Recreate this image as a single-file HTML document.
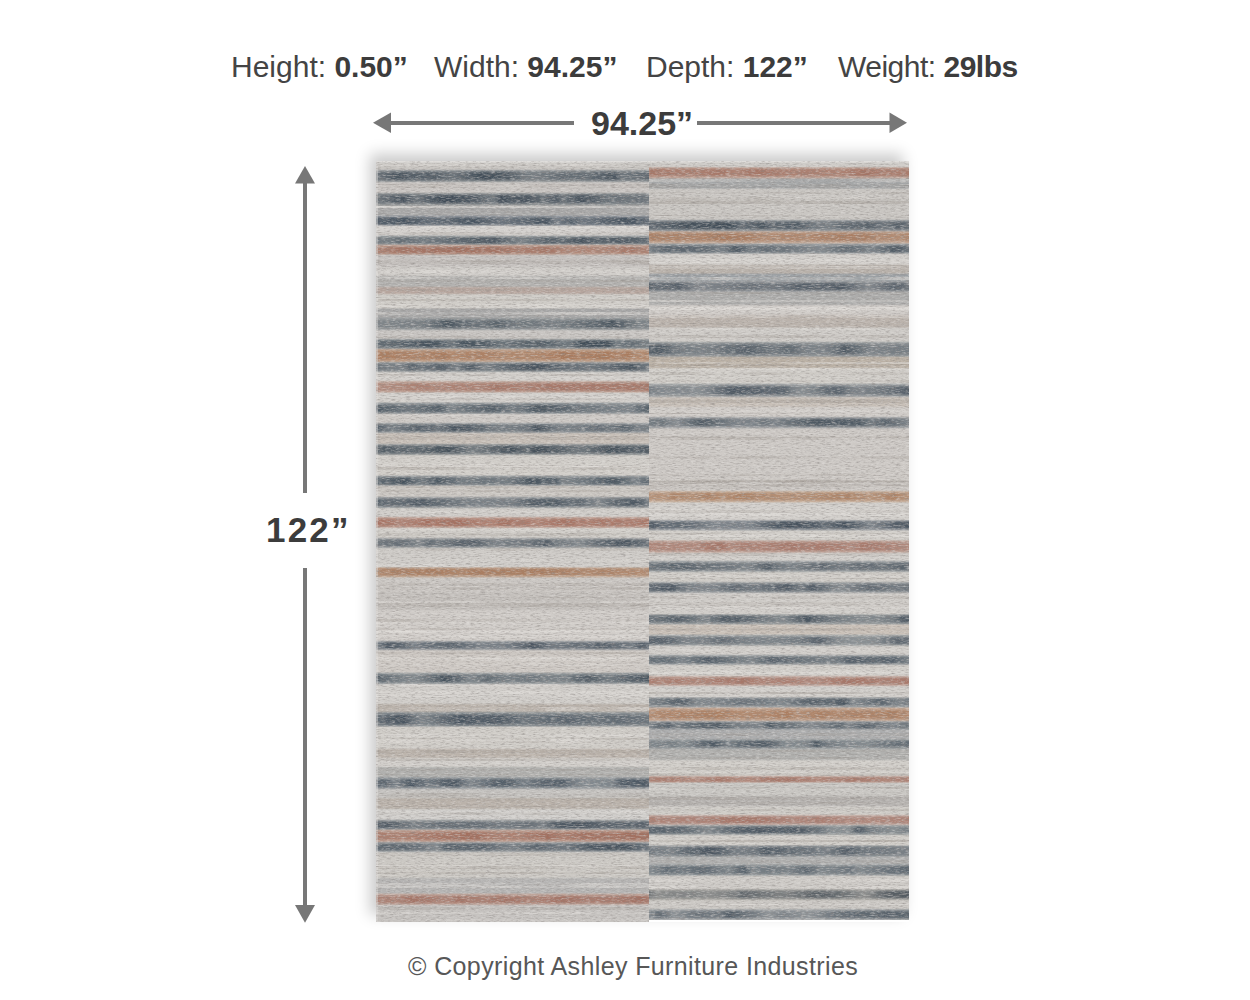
<!DOCTYPE html>
<html><head><meta charset="utf-8"><title>Rug dimensions</title>
<style>
html,body{margin:0;padding:0;background:#fff;}
body{width:1250px;height:1000px;overflow:hidden;position:relative;font-family:"Liberation Sans",sans-serif;}
.t{position:absolute;white-space:nowrap;line-height:1;color:#444;transform-origin:0 0;}
.t b{color:#3c3c3c;}
#rug{position:absolute;left:376px;top:161px;width:533px;height:761px;box-shadow:-6px -7px 14px rgba(0,0,0,0.21);overflow:hidden;}
#pl{position:absolute;left:0;top:0;width:273px;height:761px;background:linear-gradient(to bottom,#c8c5c1 0.0px,#c8c5c1 8.0px,#969a9c 10.0px,#969a9c 20.0px,#c9c5c2 22.0px,#c9c5c2 31.0px,#929698 33.0px,#929698 43.0px,#a7a7a7 45.0px,#a7a7a7 53.5px,#93989e 55.5px,#93989e 63.6px,#d5d2cf 65.6px,#d5d2cf 73.6px,#999ea0 75.6px,#999ea0 82.6px,#c4ab9e 84.6px,#c4ab9e 92.7px,#c5c1be 94.7px,#c5c1be 105.0px,#d0cdc9 107.0px,#d0cdc9 114.0px,#b2b1af 116.0px,#b2b1af 125.0px,#b7a69e 127.0px,#b7a69e 132.0px,#cfccc7 134.0px,#cfccc7 146.5px,#a6a6a6 148.5px,#a6a6a6 155.5px,#9fa2a3 157.5px,#9fa2a3 168.0px,#c8c5c2 170.0px,#c8c5c2 177.0px,#959a9c 179.0px,#959a9c 187.0px,#c6ac98 189.0px,#c6ac98 200.0px,#9a9ea0 202.0px,#9a9ea0 210.0px,#d4d1cd 212.0px,#d4d1cd 219.0px,#c8b2a7 221.0px,#c8b2a7 230.5px,#d2cfcb 232.5px,#d2cfcb 240.6px,#989da0 242.6px,#989da0 251.8px,#cdc9c5 253.8px,#cdc9c5 261.0px,#a0a4a6 263.0px,#a0a4a6 271.0px,#c8c0b8 273.0px,#c8c0b8 282.0px,#999d9e 284.0px,#999d9e 293.0px,#d1cec9 295.0px,#d1cec9 313.5px,#9ca0a2 315.5px,#9ca0a2 323.6px,#cbc7c2 325.6px,#cbc7c2 334.8px,#9fa2a4 336.8px,#9fa2a4 346.0px,#d0cdc9 348.0px,#d0cdc9 355.0px,#c6a99d 357.0px,#c6a99d 366.0px,#cfccc7 368.0px,#cfccc7 376.0px,#a2a5a6 378.0px,#a2a5a6 386.0px,#cecbc7 388.0px,#cecbc7 405.4px,#c6ae9b 407.4px,#c6ae9b 415.5px,#cbc7c3 417.5px,#cbc7c3 430.0px,#c4c0bc 432.0px,#c4c0bc 448.0px,#d0ccc8 450.0px,#d0ccc8 479.0px,#9a9ea2 481.0px,#9a9ea2 488.0px,#cdc8c3 490.0px,#cdc8c3 510.7px,#9ba0a2 512.7px,#9ba0a2 522.0px,#d0cdc9 524.0px,#d0cdc9 542.0px,#b8b0a8 544.0px,#b8b0a8 550.0px,#999ea0 552.0px,#999ea0 564.5px,#cfccc7 566.5px,#cfccc7 587.0px,#bcb4ac 589.0px,#bcb4ac 596.0px,#d2cfcb 598.0px,#d2cfcb 605.0px,#b0b0ae 607.0px,#b0b0ae 615.0px,#a4a8aa 617.0px,#a4a8aa 627.0px,#c5c3c0 629.0px,#c5c3c0 636.0px,#bab2aa 638.0px,#bab2aa 647.0px,#d1cfcc 649.0px,#d1cfcc 657.6px,#a2a5a6 659.6px,#a2a5a6 667.7px,#c3a79a 669.7px,#c3a79a 680.0px,#a0a4a6 682.0px,#a0a4a6 690.0px,#ccc9c4 692.0px,#ccc9c4 716.0px,#b5b4b3 718.0px,#b5b4b3 731.6px,#c4aca2 733.6px,#c4aca2 742.8px,#c6c3c0 744.8px,#c6c3c0 761.0px);}
#pr{position:absolute;left:273px;top:0;width:260px;height:759px;background:linear-gradient(to bottom,#c9c6c2 -1.0px,#c9c6c2 5.3px,#c4aa9e 7.3px,#c4aa9e 16.5px,#a4a6a7 18.5px,#a4a6a7 26.6px,#c9c6c2 28.6px,#c9c6c2 58.0px,#969a9d 60.0px,#969a9d 69.2px,#c6ad9c 71.2px,#c6ad9c 81.5px,#a0a4a6 83.5px,#a0a4a6 91.6px,#d2cfcb 93.6px,#d2cfcb 102.8px,#b8b1aa 104.8px,#b8b1aa 111.7px,#9ba0a4 113.7px,#9ba0a4 119.0px,#a2a4a6 121.0px,#a2a4a6 129.7px,#acacab 131.7px,#acacab 143.0px,#d0ccc8 145.0px,#d0ccc8 153.0px,#bbb3ac 155.0px,#bbb3ac 165.6px,#cecbc7 167.6px,#cecbc7 180.0px,#9a9ea0 182.0px,#9a9ea0 194.7px,#bab0a4 196.7px,#bab0a4 206.0px,#d1cec9 208.0px,#d1cec9 221.6px,#a7aaab 223.6px,#a7aaab 235.0px,#c8c0b8 237.0px,#c8c0b8 245.0px,#d0ccc8 247.0px,#d0ccc8 255.0px,#a8aaac 257.0px,#a8aaac 266.4px,#cdc9c5 268.4px,#cdc9c5 329.0px,#cbb5a2 331.0px,#cbb5a2 340.4px,#d2cfcb 342.4px,#d2cfcb 358.3px,#9a9ea2 360.3px,#9a9ea2 368.4px,#d1cec9 370.4px,#d1cec9 378.4px,#c8b2a8 380.4px,#c8b2a8 390.8px,#d2cfcb 392.8px,#d2cfcb 398.7px,#aaadae 400.7px,#aaadae 410.0px,#cfccc7 412.0px,#cfccc7 420.0px,#a7aaab 422.0px,#a7aaab 431.0px,#d0cdc9 433.0px,#d0cdc9 452.4px,#9fa3a4 454.4px,#9fa3a4 462.5px,#cac1b8 464.5px,#cac1b8 472.6px,#abaeae 474.6px,#abaeae 483.8px,#d0cdc9 485.8px,#d0cdc9 492.8px,#a6aaab 494.8px,#a6aaab 502.8px,#d1cec9 504.8px,#d1cec9 514.0px,#c8b2a8 516.0px,#c8b2a8 524.0px,#d2cfcb 526.0px,#d2cfcb 535.4px,#a0a4a6 537.4px,#a0a4a6 545.5px,#c8ae9c 547.5px,#c8ae9c 559.0px,#a8aaac 561.0px,#a8aaac 568.0px,#acadae 570.0px,#acadae 577.0px,#a5a9aa 579.0px,#a5a9aa 587.0px,#b0b0ae 589.0px,#b0b0ae 598.0px,#d1cec9 600.0px,#d1cec9 614.0px,#c8b0a6 616.0px,#c8b0a6 620.5px,#c9c7c3 622.5px,#c9c7c3 634.0px,#b6b3b0 636.0px,#b6b3b0 644.0px,#cfccc7 646.0px,#cfccc7 653.0px,#c8b2aa 655.0px,#c8b2aa 663.0px,#a6aaaa 665.0px,#a6aaaa 673.0px,#d1cec9 675.0px,#d1cec9 683.4px,#9a9ea0 685.4px,#9a9ea0 694.6px,#b0b1b1 696.6px,#b0b1b1 702.4px,#a5a9aa 704.4px,#a5a9aa 713.6px,#cdcac6 715.6px,#cdcac6 727.0px,#afada8 729.0px,#afada8 738.0px,#cbc8c4 740.0px,#cbc8c4 747.0px,#afb1b2 749.0px,#afb1b2 759.0px);}
.s{position:absolute;left:0;}
.m{-webkit-mask-image:linear-gradient(to bottom,transparent 0,#000 28%,#000 72%,transparent 100%);mask-image:linear-gradient(to bottom,transparent 0,#000 28%,#000 72%,transparent 100%);}
#noise{position:absolute;left:0;top:0;}
#arrows{position:absolute;left:0;top:0;}
</style></head><body>
<div class="t" id="h1" style="left:231px;top:51.5px;font-size:30px;">Height: <b>0.50”</b></div>
<div class="t" id="h2" style="left:434px;top:51.5px;font-size:30px;">Width: <b>94.25”</b></div>
<div class="t" id="h3" style="left:646px;top:51.5px;font-size:30px;">Depth: <b>122”</b></div>
<div class="t" id="h4" style="left:838px;top:51.5px;font-size:30px;letter-spacing:-0.5px;">Weight: <b>29lbs</b></div>
<div class="t" id="wlab" style="left:591px;top:106px;font-size:34px;"><b>94.25”</b></div>
<div class="t" id="hlab" style="left:266px;top:512px;font-size:35px;letter-spacing:2.2px;"><b>122”</b></div>
<div class="t" id="copy" style="left:408px;top:953.5px;font-size:25px;color:#575757;letter-spacing:0.38px;">© Copyright Ashley Furniture Industries</div>
<svg id="arrows" width="1250" height="1000" viewBox="0 0 1250 1000">
<g fill="#777">
<rect x="390" y="121" width="184" height="4"/>
<polygon points="373,122.8 391,112.5 391,133"/>
<rect x="697" y="121" width="193" height="4"/>
<polygon points="907,122.8 889.5,112.5 889.5,133"/>
<rect x="303" y="182" width="4" height="311"/>
<polygon points="305,166 295,183.5 315,183.5"/>
<rect x="303" y="568" width="4" height="338"/>
<polygon points="305,922.8 295,905 315,905"/>
</g>
</svg>
<div id="rug">
<div id="pl">
<div class="s" style="top:2.7px;height:2.6px;width:273px;background:linear-gradient(to right,rgba(228,225,221,0.26) 0px,rgba(228,225,221,0.32) 30px,rgba(228,225,221,0.28) 48px,rgba(228,225,221,0.44) 83px,rgba(228,225,221,0.17) 97px,rgba(228,225,221,0.45) 110px,rgba(228,225,221,0.02) 148px,rgba(228,225,221,0.53) 197px,rgba(228,225,221,0.34) 233px,rgba(228,225,221,0.01) 250px,rgba(228,225,221,0.03) 281px)"></div>
<div class="s m" style="top:9.0px;height:12.0px;width:273px;background:linear-gradient(to right,rgba(64,76,87,0.47) 0px,rgba(64,76,87,0.62) 7px,rgba(64,76,87,0.89) 23px,rgba(64,76,87,0.75) 42px,rgba(64,76,87,0.76) 60px,rgba(64,76,87,0.49) 77px,rgba(64,76,87,1.00) 107px,rgba(64,76,87,0.80) 133px,rgba(64,76,87,0.46) 146px,rgba(64,76,87,0.35) 159px,rgba(64,76,87,0.58) 184px,rgba(64,76,87,0.57) 210px,rgba(64,76,87,0.89) 239px,rgba(64,76,87,0.45) 245px,rgba(64,76,87,0.63) 273px)"></div>
<div class="s" style="top:24.2px;height:1.6px;width:273px;background:linear-gradient(to right,rgba(228,225,221,0.43) 0px,rgba(228,225,221,0.05) 21px,rgba(228,225,221,0.53) 44px,rgba(228,225,221,0.06) 84px,rgba(228,225,221,0.06) 104px,rgba(228,225,221,0.44) 117px,rgba(228,225,221,0.31) 134px,rgba(228,225,221,0.10) 162px,rgba(228,225,221,0.07) 201px,rgba(228,225,221,0.06) 237px,rgba(228,225,221,0.12) 264px,rgba(228,225,221,0.53) 284px)"></div>
<div class="s" style="top:23.4px;height:3.3px;width:273px;background:linear-gradient(to right,rgba(154,147,140,0.14) 0px,rgba(154,147,140,0.22) 44px,rgba(154,147,140,0.35) 58px,rgba(154,147,140,0.09) 77px,rgba(154,147,140,0.12) 118px,rgba(154,147,140,0.03) 139px,rgba(154,147,140,0.20) 153px,rgba(154,147,140,0.21) 173px,rgba(154,147,140,0.16) 198px,rgba(154,147,140,0.17) 246px,rgba(154,147,140,0.30) 279px)"></div>
<div class="s m" style="top:32.0px;height:12.0px;width:273px;background:linear-gradient(to right,rgba(61,73,85,0.41) 0px,rgba(61,73,85,0.87) 28px,rgba(61,73,85,0.43) 40px,rgba(61,73,85,0.96) 64px,rgba(61,73,85,0.97) 74px,rgba(61,73,85,0.72) 101px,rgba(61,73,85,0.37) 118px,rgba(61,73,85,0.97) 124px,rgba(61,73,85,0.79) 136px,rgba(61,73,85,0.88) 148px,rgba(61,73,85,0.51) 169px,rgba(61,73,85,0.80) 179px,rgba(61,73,85,0.46) 187px,rgba(61,73,85,0.90) 206px,rgba(61,73,85,0.50) 227px,rgba(61,73,85,0.44) 255px,rgba(61,73,85,0.49) 261px,rgba(61,73,85,0.34) 278px,rgba(61,73,85,0.56) 288px)"></div>
<div class="s" style="top:45.0px;height:2.2px;width:273px;background:linear-gradient(to right,rgba(228,225,221,0.54) 0px,rgba(228,225,221,0.38) 36px,rgba(228,225,221,0.08) 70px,rgba(228,225,221,0.01) 81px,rgba(228,225,221,0.39) 127px,rgba(228,225,221,0.01) 176px,rgba(228,225,221,0.27) 211px,rgba(228,225,221,0.18) 251px)"></div>
<div class="s" style="top:44.6px;height:2.6px;width:273px;background:linear-gradient(to right,rgba(228,225,221,0.50) 0px,rgba(228,225,221,0.39) 39px,rgba(228,225,221,0.50) 81px,rgba(228,225,221,0.38) 105px,rgba(228,225,221,0.48) 151px,rgba(228,225,221,0.43) 178px,rgba(228,225,221,0.32) 223px,rgba(228,225,221,0.21) 258px,rgba(228,225,221,0.33) 291px)"></div>
<div class="s m" style="top:54.5px;height:10.1px;width:273px;background:linear-gradient(to right,rgba(62,75,88,0.75) 0px,rgba(62,75,88,0.92) 30px,rgba(62,75,88,0.57) 53px,rgba(62,75,88,0.71) 77px,rgba(62,75,88,0.89) 94px,rgba(62,75,88,0.83) 102px,rgba(62,75,88,0.72) 108px,rgba(62,75,88,0.46) 126px,rgba(62,75,88,0.65) 149px,rgba(62,75,88,0.94) 169px,rgba(62,75,88,0.31) 181px,rgba(62,75,88,0.77) 195px,rgba(62,75,88,0.42) 206px,rgba(62,75,88,0.76) 233px,rgba(62,75,88,0.92) 250px,rgba(62,75,88,0.77) 264px,rgba(62,75,88,0.60) 274px)"></div>
<div class="s" style="top:71.0px;height:3.3px;width:273px;background:linear-gradient(to right,rgba(154,147,140,0.20) 0px,rgba(154,147,140,0.05) 23px,rgba(154,147,140,0.29) 53px,rgba(154,147,140,0.25) 96px,rgba(154,147,140,0.10) 144px,rgba(154,147,140,0.16) 161px,rgba(154,147,140,0.07) 182px,rgba(154,147,140,0.22) 209px,rgba(154,147,140,0.11) 239px,rgba(154,147,140,0.34) 282px)"></div>
<div class="s" style="top:65.1px;height:1.6px;width:273px;background:linear-gradient(to right,rgba(228,225,221,0.02) 0px,rgba(228,225,221,0.31) 38px,rgba(228,225,221,0.44) 61px,rgba(228,225,221,0.07) 71px,rgba(228,225,221,0.01) 100px,rgba(228,225,221,0.13) 143px,rgba(228,225,221,0.03) 158px,rgba(228,225,221,0.25) 194px,rgba(228,225,221,0.36) 229px,rgba(228,225,221,0.53) 271px)"></div>
<div class="s m" style="top:74.6px;height:9.0px;width:273px;background:linear-gradient(to right,rgba(66,78,89,0.44) 0px,rgba(66,78,89,0.43) 17px,rgba(66,78,89,0.63) 24px,rgba(66,78,89,0.43) 47px,rgba(66,78,89,0.54) 59px,rgba(66,78,89,0.66) 82px,rgba(66,78,89,0.83) 103px,rgba(66,78,89,0.85) 118px,rgba(66,78,89,0.36) 146px,rgba(66,78,89,0.81) 174px,rgba(66,78,89,0.62) 184px,rgba(66,78,89,0.94) 205px,rgba(66,78,89,0.70) 220px,rgba(66,78,89,0.86) 247px,rgba(66,78,89,0.62) 275px)"></div>
<div class="s m" style="top:83.6px;height:10.1px;width:273px;background:linear-gradient(to right,rgba(161,112,96,0.68) 0px,rgba(161,112,96,0.93) 23px,rgba(161,112,96,0.89) 45px,rgba(161,112,96,0.96) 56px,rgba(161,112,96,0.99) 85px,rgba(161,112,96,0.92) 104px,rgba(161,112,96,0.96) 118px,rgba(161,112,96,0.74) 144px,rgba(161,112,96,0.78) 152px,rgba(161,112,96,0.91) 172px,rgba(161,112,96,0.61) 189px,rgba(161,112,96,0.63) 215px,rgba(161,112,96,0.67) 240px,rgba(161,112,96,0.92) 254px,rgba(161,112,96,0.66) 263px,rgba(161,112,96,0.89) 282px)"></div>
<div class="s" style="top:100.1px;height:3.4px;width:273px;background:linear-gradient(to right,rgba(154,147,140,0.33) 0px,rgba(154,147,140,0.08) 13px,rgba(154,147,140,0.10) 45px,rgba(154,147,140,0.22) 84px,rgba(154,147,140,0.30) 115px,rgba(154,147,140,0.11) 147px,rgba(154,147,140,0.30) 172px,rgba(154,147,140,0.07) 218px,rgba(154,147,140,0.34) 262px)"></div>
<div class="s" style="top:99.0px;height:1.9px;width:273px;background:linear-gradient(to right,rgba(154,147,140,0.18) 0px,rgba(154,147,140,0.01) 34px,rgba(154,147,140,0.18) 83px,rgba(154,147,140,0.28) 109px,rgba(154,147,140,0.17) 142px,rgba(154,147,140,0.02) 179px,rgba(154,147,140,0.14) 211px,rgba(154,147,140,0.32) 259px,rgba(154,147,140,0.17) 280px)"></div>
<div class="s" style="top:108.6px;height:3.1px;width:273px;background:linear-gradient(to right,rgba(228,225,221,0.26) 0px,rgba(228,225,221,0.11) 23px,rgba(228,225,221,0.51) 57px,rgba(228,225,221,0.43) 73px,rgba(228,225,221,0.11) 83px,rgba(228,225,221,0.38) 103px,rgba(228,225,221,0.20) 125px,rgba(228,225,221,0.06) 160px,rgba(228,225,221,0.07) 199px,rgba(228,225,221,0.14) 230px,rgba(228,225,221,0.29) 248px,rgba(228,225,221,0.21) 275px)"></div>
<div class="s" style="top:119.2px;height:1.8px;width:273px;background:linear-gradient(to right,rgba(154,147,140,0.22) 0px,rgba(154,147,140,0.19) 36px,rgba(154,147,140,0.21) 80px,rgba(154,147,140,0.08) 124px,rgba(154,147,140,0.28) 163px,rgba(154,147,140,0.11) 210px,rgba(154,147,140,0.32) 232px,rgba(154,147,140,0.35) 251px)"></div>
<div class="s" style="top:116.1px;height:2.0px;width:273px;background:linear-gradient(to right,rgba(228,225,221,0.14) 0px,rgba(228,225,221,0.46) 14px,rgba(228,225,221,0.43) 41px,rgba(228,225,221,0.22) 56px,rgba(228,225,221,0.01) 93px,rgba(228,225,221,0.38) 111px,rgba(228,225,221,0.53) 158px,rgba(228,225,221,0.28) 172px,rgba(228,225,221,0.28) 213px,rgba(228,225,221,0.10) 250px,rgba(228,225,221,0.06) 263px,rgba(228,225,221,0.30) 274px)"></div>
<div class="s" style="top:128.3px;height:1.8px;width:273px;background:linear-gradient(to right,rgba(154,147,140,0.07) 0px,rgba(154,147,140,0.35) 44px,rgba(154,147,140,0.03) 91px,rgba(154,147,140,0.33) 103px,rgba(154,147,140,0.27) 132px,rgba(154,147,140,0.16) 155px,rgba(154,147,140,0.15) 185px,rgba(154,147,140,0.00) 219px,rgba(154,147,140,0.30) 257px,rgba(154,147,140,0.16) 275px)"></div>
<div class="s" style="top:137.7px;height:1.9px;width:273px;background:linear-gradient(to right,rgba(154,147,140,0.18) 0px,rgba(154,147,140,0.31) 11px,rgba(154,147,140,0.25) 53px,rgba(154,147,140,0.22) 97px,rgba(154,147,140,0.21) 123px,rgba(154,147,140,0.34) 153px,rgba(154,147,140,0.09) 196px,rgba(154,147,140,0.26) 242px,rgba(154,147,140,0.29) 283px)"></div>
<div class="s" style="top:143.3px;height:3.3px;width:273px;background:linear-gradient(to right,rgba(228,225,221,0.42) 0px,rgba(228,225,221,0.22) 41px,rgba(228,225,221,0.04) 80px,rgba(228,225,221,0.26) 103px,rgba(228,225,221,0.20) 114px,rgba(228,225,221,0.34) 149px,rgba(228,225,221,0.52) 168px,rgba(228,225,221,0.19) 205px,rgba(228,225,221,0.31) 241px,rgba(228,225,221,0.21) 273px)"></div>
<div class="s" style="top:151.4px;height:2.9px;width:273px;background:linear-gradient(to right,rgba(228,225,221,0.54) 0px,rgba(228,225,221,0.34) 11px,rgba(228,225,221,0.14) 50px,rgba(228,225,221,0.03) 77px,rgba(228,225,221,0.21) 94px,rgba(228,225,221,0.14) 108px,rgba(228,225,221,0.30) 155px,rgba(228,225,221,0.53) 185px,rgba(228,225,221,0.55) 218px,rgba(228,225,221,0.45) 253px,rgba(228,225,221,0.33) 266px)"></div>
<div class="s m" style="top:156.5px;height:12.5px;width:273px;background:linear-gradient(to right,rgba(69,81,91,0.33) 0px,rgba(69,81,91,0.41) 28px,rgba(69,81,91,0.42) 46px,rgba(69,81,91,0.73) 64px,rgba(69,81,91,0.96) 71px,rgba(69,81,91,0.67) 87px,rgba(69,81,91,0.56) 107px,rgba(69,81,91,0.76) 120px,rgba(69,81,91,0.50) 140px,rgba(69,81,91,0.51) 163px,rgba(69,81,91,0.47) 169px,rgba(69,81,91,0.41) 176px,rgba(69,81,91,0.57) 200px,rgba(69,81,91,0.82) 228px,rgba(69,81,91,0.99) 235px,rgba(69,81,91,0.35) 264px,rgba(69,81,91,0.60) 292px)"></div>
<div class="s" style="top:174.8px;height:2.0px;width:273px;background:linear-gradient(to right,rgba(154,147,140,0.33) 0px,rgba(154,147,140,0.16) 39px,rgba(154,147,140,0.29) 88px,rgba(154,147,140,0.04) 122px,rgba(154,147,140,0.16) 157px,rgba(154,147,140,0.02) 175px,rgba(154,147,140,0.04) 206px,rgba(154,147,140,0.23) 234px,rgba(154,147,140,0.09) 262px)"></div>
<div class="s m" style="top:178.0px;height:10.0px;width:273px;background:linear-gradient(to right,rgba(63,76,87,0.59) 0px,rgba(63,76,87,0.67) 25px,rgba(63,76,87,0.97) 55px,rgba(63,76,87,0.47) 78px,rgba(63,76,87,0.92) 87px,rgba(63,76,87,0.74) 112px,rgba(63,76,87,0.49) 126px,rgba(63,76,87,0.70) 149px,rgba(63,76,87,0.74) 169px,rgba(63,76,87,0.43) 193px,rgba(63,76,87,0.99) 205px,rgba(63,76,87,0.92) 233px,rgba(63,76,87,0.34) 240px,rgba(63,76,87,0.60) 253px,rgba(63,76,87,0.37) 273px,rgba(63,76,87,0.35) 292px)"></div>
<div class="s m" style="top:188.0px;height:13.0px;width:273px;background:linear-gradient(to right,rgba(167,120,90,0.87) 0px,rgba(167,120,90,0.85) 19px,rgba(167,120,90,0.79) 34px,rgba(167,120,90,0.74) 45px,rgba(167,120,90,0.94) 69px,rgba(167,120,90,0.65) 77px,rgba(167,120,90,0.85) 102px,rgba(167,120,90,0.69) 127px,rgba(167,120,90,0.70) 143px,rgba(167,120,90,0.75) 168px,rgba(167,120,90,1.00) 190px,rgba(167,120,90,0.82) 204px,rgba(167,120,90,0.97) 228px,rgba(167,120,90,0.75) 244px,rgba(167,120,90,0.95) 252px,rgba(167,120,90,0.63) 260px,rgba(167,120,90,0.79) 280px)"></div>
<div class="s m" style="top:201.0px;height:10.0px;width:273px;background:linear-gradient(to right,rgba(66,78,89,0.51) 0px,rgba(66,78,89,0.35) 25px,rgba(66,78,89,0.76) 36px,rgba(66,78,89,0.51) 44px,rgba(66,78,89,0.79) 67px,rgba(66,78,89,0.40) 80px,rgba(66,78,89,0.81) 94px,rgba(66,78,89,0.38) 109px,rgba(66,78,89,0.70) 132px,rgba(66,78,89,0.96) 160px,rgba(66,78,89,0.61) 188px,rgba(66,78,89,0.51) 214px,rgba(66,78,89,0.58) 227px,rgba(66,78,89,0.93) 256px,rgba(66,78,89,0.55) 268px,rgba(66,78,89,0.55) 282px)"></div>
<div class="s" style="top:213.3px;height:1.9px;width:273px;background:linear-gradient(to right,rgba(154,147,140,0.28) 0px,rgba(154,147,140,0.29) 32px,rgba(154,147,140,0.06) 64px,rgba(154,147,140,0.31) 104px,rgba(154,147,140,0.01) 126px,rgba(154,147,140,0.19) 156px,rgba(154,147,140,0.34) 189px,rgba(154,147,140,0.28) 225px,rgba(154,147,140,0.19) 238px,rgba(154,147,140,0.03) 279px,rgba(154,147,140,0.26) 292px)"></div>
<div class="s m" style="top:220.0px;height:11.5px;width:273px;background:linear-gradient(to right,rgba(165,118,103,0.63) 0px,rgba(165,118,103,0.66) 21px,rgba(165,118,103,0.86) 45px,rgba(165,118,103,0.69) 57px,rgba(165,118,103,0.81) 81px,rgba(165,118,103,0.76) 106px,rgba(165,118,103,0.99) 120px,rgba(165,118,103,0.80) 142px,rgba(165,118,103,0.89) 161px,rgba(165,118,103,0.97) 184px,rgba(165,118,103,0.93) 200px,rgba(165,118,103,0.94) 222px,rgba(165,118,103,0.93) 247px,rgba(165,118,103,0.98) 274px)"></div>
<div class="s" style="top:235.2px;height:2.9px;width:273px;background:linear-gradient(to right,rgba(228,225,221,0.23) 0px,rgba(228,225,221,0.08) 27px,rgba(228,225,221,0.55) 66px,rgba(228,225,221,0.09) 91px,rgba(228,225,221,0.23) 110px,rgba(228,225,221,0.53) 131px,rgba(228,225,221,0.17) 144px,rgba(228,225,221,0.36) 158px,rgba(228,225,221,0.10) 199px,rgba(228,225,221,0.25) 212px,rgba(228,225,221,0.50) 245px,rgba(228,225,221,0.06) 257px,rgba(228,225,221,0.12) 274px)"></div>
<div class="s" style="top:236.6px;height:2.7px;width:273px;background:linear-gradient(to right,rgba(154,147,140,0.06) 0px,rgba(154,147,140,0.06) 21px,rgba(154,147,140,0.11) 62px,rgba(154,147,140,0.29) 93px,rgba(154,147,140,0.09) 123px,rgba(154,147,140,0.32) 168px,rgba(154,147,140,0.19) 192px,rgba(154,147,140,0.17) 240px,rgba(154,147,140,0.02) 259px)"></div>
<div class="s m" style="top:241.6px;height:11.2px;width:273px;background:linear-gradient(to right,rgba(65,78,89,0.86) 0px,rgba(65,78,89,0.67) 15px,rgba(65,78,89,0.49) 34px,rgba(65,78,89,0.76) 63px,rgba(65,78,89,0.31) 75px,rgba(65,78,89,0.56) 92px,rgba(65,78,89,0.80) 118px,rgba(65,78,89,0.41) 138px,rgba(65,78,89,0.53) 148px,rgba(65,78,89,0.91) 160px,rgba(65,78,89,0.75) 178px,rgba(65,78,89,0.49) 208px,rgba(65,78,89,0.41) 227px,rgba(65,78,89,0.30) 252px,rgba(65,78,89,0.89) 277px)"></div>
<div class="s" style="top:253.3px;height:2.0px;width:273px;background:linear-gradient(to right,rgba(228,225,221,0.05) 0px,rgba(228,225,221,0.26) 29px,rgba(228,225,221,0.32) 77px,rgba(228,225,221,0.17) 122px,rgba(228,225,221,0.23) 163px,rgba(228,225,221,0.05) 210px,rgba(228,225,221,0.11) 253px,rgba(228,225,221,0.29) 285px)"></div>
<div class="s m" style="top:262.0px;height:10.0px;width:273px;background:linear-gradient(to right,rgba(70,82,93,0.88) 0px,rgba(70,82,93,0.52) 13px,rgba(70,82,93,0.51) 21px,rgba(70,82,93,0.80) 39px,rgba(70,82,93,0.78) 53px,rgba(70,82,93,0.58) 62px,rgba(70,82,93,0.98) 79px,rgba(70,82,93,0.76) 105px,rgba(70,82,93,0.56) 111px,rgba(70,82,93,0.47) 134px,rgba(70,82,93,0.62) 154px,rgba(70,82,93,0.99) 160px,rgba(70,82,93,0.44) 185px,rgba(70,82,93,0.50) 206px,rgba(70,82,93,0.68) 221px,rgba(70,82,93,0.54) 234px,rgba(70,82,93,0.77) 249px,rgba(70,82,93,0.44) 262px,rgba(70,82,93,0.53) 285px)"></div>
<div class="s" style="top:276.5px;height:2.9px;width:273px;background:linear-gradient(to right,rgba(154,147,140,0.29) 0px,rgba(154,147,140,0.05) 14px,rgba(154,147,140,0.24) 27px,rgba(154,147,140,0.06) 66px,rgba(154,147,140,0.29) 92px,rgba(154,147,140,0.03) 126px,rgba(154,147,140,0.05) 145px,rgba(154,147,140,0.14) 160px,rgba(154,147,140,0.32) 173px,rgba(154,147,140,0.18) 200px,rgba(154,147,140,0.27) 236px,rgba(154,147,140,0.14) 278px)"></div>
<div class="s" style="top:275.3px;height:1.5px;width:273px;background:linear-gradient(to right,rgba(154,147,140,0.24) 0px,rgba(154,147,140,0.28) 49px,rgba(154,147,140,0.21) 86px,rgba(154,147,140,0.12) 96px,rgba(154,147,140,0.23) 120px,rgba(154,147,140,0.13) 134px,rgba(154,147,140,0.28) 165px,rgba(154,147,140,0.21) 208px,rgba(154,147,140,0.27) 224px,rgba(154,147,140,0.19) 270px)"></div>
<div class="s m" style="top:283.0px;height:11.0px;width:273px;background:linear-gradient(to right,rgba(66,78,88,0.65) 0px,rgba(66,78,88,0.80) 9px,rgba(66,78,88,0.66) 39px,rgba(66,78,88,0.88) 62px,rgba(66,78,88,0.96) 73px,rgba(66,78,88,0.44) 94px,rgba(66,78,88,0.47) 102px,rgba(66,78,88,0.79) 122px,rgba(66,78,88,0.95) 136px,rgba(66,78,88,0.62) 150px,rgba(66,78,88,0.98) 159px,rgba(66,78,88,0.93) 169px,rgba(66,78,88,0.69) 188px,rgba(66,78,88,0.49) 207px,rgba(66,78,88,0.99) 235px,rgba(66,78,88,0.72) 261px,rgba(66,78,88,0.88) 270px,rgba(66,78,88,0.93) 282px)"></div>
<div class="s" style="top:304.0px;height:3.2px;width:273px;background:linear-gradient(to right,rgba(154,147,140,0.19) 0px,rgba(154,147,140,0.01) 13px,rgba(154,147,140,0.35) 30px,rgba(154,147,140,0.23) 78px,rgba(154,147,140,0.23) 100px,rgba(154,147,140,0.13) 140px,rgba(154,147,140,0.28) 173px,rgba(154,147,140,0.07) 184px,rgba(154,147,140,0.05) 213px,rgba(154,147,140,0.20) 238px,rgba(154,147,140,0.18) 255px,rgba(154,147,140,0.20) 276px)"></div>
<div class="s" style="top:305.2px;height:1.6px;width:273px;background:linear-gradient(to right,rgba(228,225,221,0.08) 0px,rgba(228,225,221,0.33) 48px,rgba(228,225,221,0.23) 77px,rgba(228,225,221,0.38) 112px,rgba(228,225,221,0.41) 152px,rgba(228,225,221,0.55) 182px,rgba(228,225,221,0.47) 225px,rgba(228,225,221,0.24) 252px,rgba(228,225,221,0.50) 284px)"></div>
<div class="s" style="top:303.2px;height:2.4px;width:273px;background:linear-gradient(to right,rgba(228,225,221,0.18) 0px,rgba(228,225,221,0.40) 12px,rgba(228,225,221,0.40) 58px,rgba(228,225,221,0.41) 92px,rgba(228,225,221,0.33) 114px,rgba(228,225,221,0.07) 127px,rgba(228,225,221,0.28) 155px,rgba(228,225,221,0.03) 181px,rgba(228,225,221,0.29) 219px,rgba(228,225,221,0.17) 238px,rgba(228,225,221,0.13) 264px,rgba(228,225,221,0.50) 277px)"></div>
<div class="s" style="top:305.6px;height:3.2px;width:273px;background:linear-gradient(to right,rgba(154,147,140,0.28) 0px,rgba(154,147,140,0.26) 19px,rgba(154,147,140,0.32) 52px,rgba(154,147,140,0.28) 65px,rgba(154,147,140,0.19) 80px,rgba(154,147,140,0.00) 128px,rgba(154,147,140,0.10) 148px,rgba(154,147,140,0.02) 171px,rgba(154,147,140,0.29) 217px,rgba(154,147,140,0.12) 243px,rgba(154,147,140,0.02) 276px,rgba(154,147,140,0.31) 288px)"></div>
<div class="s m" style="top:314.5px;height:10.1px;width:273px;background:linear-gradient(to right,rgba(67,80,91,0.65) 0px,rgba(67,80,91,0.98) 28px,rgba(67,80,91,0.44) 46px,rgba(67,80,91,0.95) 59px,rgba(67,80,91,0.44) 86px,rgba(67,80,91,0.55) 112px,rgba(67,80,91,0.42) 130px,rgba(67,80,91,1.00) 157px,rgba(67,80,91,0.74) 168px,rgba(67,80,91,0.92) 178px,rgba(67,80,91,0.37) 186px,rgba(67,80,91,0.52) 209px,rgba(67,80,91,0.91) 237px,rgba(67,80,91,0.39) 260px,rgba(67,80,91,0.96) 282px)"></div>
<div class="s" style="top:325.2px;height:1.9px;width:273px;background:linear-gradient(to right,rgba(154,147,140,0.25) 0px,rgba(154,147,140,0.06) 18px,rgba(154,147,140,0.23) 37px,rgba(154,147,140,0.13) 79px,rgba(154,147,140,0.31) 115px,rgba(154,147,140,0.08) 149px,rgba(154,147,140,0.32) 171px,rgba(154,147,140,0.10) 208px,rgba(154,147,140,0.03) 243px,rgba(154,147,140,0.15) 293px)"></div>
<div class="s" style="top:329.0px;height:1.6px;width:273px;background:linear-gradient(to right,rgba(154,147,140,0.10) 0px,rgba(154,147,140,0.28) 20px,rgba(154,147,140,0.10) 34px,rgba(154,147,140,0.09) 74px,rgba(154,147,140,0.19) 95px,rgba(154,147,140,0.31) 112px,rgba(154,147,140,0.01) 162px,rgba(154,147,140,0.26) 190px,rgba(154,147,140,0.33) 216px,rgba(154,147,140,0.06) 246px,rgba(154,147,140,0.23) 278px)"></div>
<div class="s m" style="top:335.8px;height:11.2px;width:273px;background:linear-gradient(to right,rgba(69,81,92,0.76) 0px,rgba(69,81,92,0.66) 25px,rgba(69,81,92,0.89) 43px,rgba(69,81,92,0.66) 65px,rgba(69,81,92,0.42) 94px,rgba(69,81,92,0.42) 119px,rgba(69,81,92,0.46) 139px,rgba(69,81,92,0.84) 156px,rgba(69,81,92,0.85) 181px,rgba(69,81,92,0.64) 193px,rgba(69,81,92,0.71) 204px,rgba(69,81,92,0.32) 222px,rgba(69,81,92,0.80) 242px,rgba(69,81,92,0.91) 262px,rgba(69,81,92,0.41) 272px,rgba(69,81,92,0.65) 279px)"></div>
<div class="s" style="top:349.7px;height:2.0px;width:273px;background:linear-gradient(to right,rgba(228,225,221,0.04) 0px,rgba(228,225,221,0.31) 46px,rgba(228,225,221,0.44) 78px,rgba(228,225,221,0.08) 98px,rgba(228,225,221,0.02) 120px,rgba(228,225,221,0.34) 143px,rgba(228,225,221,0.15) 174px,rgba(228,225,221,0.05) 207px,rgba(228,225,221,0.09) 250px,rgba(228,225,221,0.09) 270px)"></div>
<div class="s m" style="top:356.0px;height:11.0px;width:273px;background:linear-gradient(to right,rgba(163,110,94,0.93) 0px,rgba(163,110,94,0.62) 25px,rgba(163,110,94,0.75) 41px,rgba(163,110,94,0.99) 52px,rgba(163,110,94,0.80) 59px,rgba(163,110,94,0.99) 83px,rgba(163,110,94,0.78) 93px,rgba(163,110,94,0.62) 117px,rgba(163,110,94,0.96) 128px,rgba(163,110,94,0.76) 138px,rgba(163,110,94,0.77) 151px,rgba(163,110,94,0.61) 159px,rgba(163,110,94,0.91) 189px,rgba(163,110,94,0.69) 212px,rgba(163,110,94,0.82) 224px,rgba(163,110,94,0.78) 236px,rgba(163,110,94,0.75) 264px,rgba(163,110,94,0.99) 279px)"></div>
<div class="s" style="top:367.3px;height:2.3px;width:273px;background:linear-gradient(to right,rgba(228,225,221,0.03) 0px,rgba(228,225,221,0.38) 24px,rgba(228,225,221,0.32) 68px,rgba(228,225,221,0.25) 114px,rgba(228,225,221,0.46) 139px,rgba(228,225,221,0.43) 165px,rgba(228,225,221,0.19) 183px,rgba(228,225,221,0.30) 201px,rgba(228,225,221,0.11) 217px,rgba(228,225,221,0.26) 236px,rgba(228,225,221,0.25) 258px)"></div>
<div class="s" style="top:371.8px;height:3.2px;width:273px;background:linear-gradient(to right,rgba(154,147,140,0.13) 0px,rgba(154,147,140,0.24) 13px,rgba(154,147,140,0.10) 37px,rgba(154,147,140,0.06) 48px,rgba(154,147,140,0.14) 69px,rgba(154,147,140,0.25) 116px,rgba(154,147,140,0.13) 136px,rgba(154,147,140,0.33) 152px,rgba(154,147,140,0.27) 177px,rgba(154,147,140,0.32) 216px,rgba(154,147,140,0.11) 227px,rgba(154,147,140,0.03) 252px)"></div>
<div class="s m" style="top:377.0px;height:10.0px;width:273px;background:linear-gradient(to right,rgba(71,82,93,0.53) 0px,rgba(71,82,93,0.66) 24px,rgba(71,82,93,0.58) 32px,rgba(71,82,93,0.33) 44px,rgba(71,82,93,0.72) 53px,rgba(71,82,93,0.52) 60px,rgba(71,82,93,0.68) 76px,rgba(71,82,93,0.79) 85px,rgba(71,82,93,0.81) 98px,rgba(71,82,93,0.40) 120px,rgba(71,82,93,0.50) 131px,rgba(71,82,93,0.58) 154px,rgba(71,82,93,0.91) 169px,rgba(71,82,93,0.50) 180px,rgba(71,82,93,0.45) 195px,rgba(71,82,93,0.32) 202px,rgba(71,82,93,0.70) 223px,rgba(71,82,93,0.98) 248px,rgba(71,82,93,0.77) 261px,rgba(71,82,93,0.45) 289px)"></div>
<div class="s" style="top:397.9px;height:3.4px;width:273px;background:linear-gradient(to right,rgba(228,225,221,0.13) 0px,rgba(228,225,221,0.05) 35px,rgba(228,225,221,0.22) 62px,rgba(228,225,221,0.21) 75px,rgba(228,225,221,0.27) 98px,rgba(228,225,221,0.09) 119px,rgba(228,225,221,0.26) 145px,rgba(228,225,221,0.37) 162px,rgba(228,225,221,0.05) 181px,rgba(228,225,221,0.23) 205px,rgba(228,225,221,0.32) 221px,rgba(228,225,221,0.30) 259px)"></div>
<div class="s" style="top:387.4px;height:2.3px;width:273px;background:linear-gradient(to right,rgba(154,147,140,0.02) 0px,rgba(154,147,140,0.02) 26px,rgba(154,147,140,0.21) 56px,rgba(154,147,140,0.11) 85px,rgba(154,147,140,0.01) 105px,rgba(154,147,140,0.31) 129px,rgba(154,147,140,0.09) 161px,rgba(154,147,140,0.07) 198px,rgba(154,147,140,0.22) 227px,rgba(154,147,140,0.13) 275px)"></div>
<div class="s" style="top:402.5px;height:3.0px;width:273px;background:linear-gradient(to right,rgba(228,225,221,0.34) 0px,rgba(228,225,221,0.23) 26px,rgba(228,225,221,0.46) 47px,rgba(228,225,221,0.21) 93px,rgba(228,225,221,0.02) 139px,rgba(228,225,221,0.28) 154px,rgba(228,225,221,0.20) 177px,rgba(228,225,221,0.08) 226px,rgba(228,225,221,0.13) 244px,rgba(228,225,221,0.13) 281px,rgba(228,225,221,0.30) 291px)"></div>
<div class="s m" style="top:406.4px;height:10.1px;width:273px;background:linear-gradient(to right,rgba(166,121,92,0.70) 0px,rgba(166,121,92,0.86) 18px,rgba(166,121,92,0.85) 37px,rgba(166,121,92,0.93) 56px,rgba(166,121,92,0.73) 86px,rgba(166,121,92,0.95) 100px,rgba(166,121,92,0.89) 114px,rgba(166,121,92,0.87) 136px,rgba(166,121,92,0.93) 165px,rgba(166,121,92,0.85) 175px,rgba(166,121,92,0.83) 193px,rgba(166,121,92,0.71) 208px,rgba(166,121,92,0.81) 232px,rgba(166,121,92,0.70) 244px,rgba(166,121,92,0.67) 257px,rgba(166,121,92,0.65) 276px,rgba(166,121,92,0.63) 283px,rgba(166,121,92,0.88) 292px)"></div>
<div class="s" style="top:421.7px;height:3.0px;width:273px;background:linear-gradient(to right,rgba(154,147,140,0.06) 0px,rgba(154,147,140,0.30) 45px,rgba(154,147,140,0.09) 57px,rgba(154,147,140,0.28) 87px,rgba(154,147,140,0.25) 113px,rgba(154,147,140,0.25) 133px,rgba(154,147,140,0.12) 156px,rgba(154,147,140,0.29) 196px,rgba(154,147,140,0.20) 239px,rgba(154,147,140,0.25) 266px)"></div>
<div class="s" style="top:426.1px;height:3.1px;width:273px;background:linear-gradient(to right,rgba(154,147,140,0.13) 0px,rgba(154,147,140,0.08) 37px,rgba(154,147,140,0.00) 54px,rgba(154,147,140,0.33) 88px,rgba(154,147,140,0.05) 136px,rgba(154,147,140,0.15) 174px,rgba(154,147,140,0.14) 209px,rgba(154,147,140,0.35) 256px,rgba(154,147,140,0.25) 268px,rgba(154,147,140,0.01) 283px)"></div>
<div class="s" style="top:442.0px;height:3.5px;width:273px;background:linear-gradient(to right,rgba(154,147,140,0.12) 0px,rgba(154,147,140,0.19) 11px,rgba(154,147,140,0.13) 40px,rgba(154,147,140,0.28) 63px,rgba(154,147,140,0.10) 106px,rgba(154,147,140,0.22) 132px,rgba(154,147,140,0.34) 173px,rgba(154,147,140,0.24) 198px,rgba(154,147,140,0.28) 230px,rgba(154,147,140,0.06) 246px,rgba(154,147,140,0.33) 260px,rgba(154,147,140,0.17) 280px)"></div>
<div class="s" style="top:435.9px;height:1.5px;width:273px;background:linear-gradient(to right,rgba(154,147,140,0.05) 0px,rgba(154,147,140,0.10) 35px,rgba(154,147,140,0.17) 54px,rgba(154,147,140,0.09) 79px,rgba(154,147,140,0.02) 91px,rgba(154,147,140,0.11) 137px,rgba(154,147,140,0.06) 150px,rgba(154,147,140,0.35) 179px,rgba(154,147,140,0.30) 197px,rgba(154,147,140,0.15) 226px,rgba(154,147,140,0.14) 269px,rgba(154,147,140,0.19) 281px)"></div>
<div class="s" style="top:440.3px;height:2.1px;width:273px;background:linear-gradient(to right,rgba(228,225,221,0.48) 0px,rgba(228,225,221,0.24) 50px,rgba(228,225,221,0.40) 93px,rgba(228,225,221,0.01) 110px,rgba(228,225,221,0.07) 127px,rgba(228,225,221,0.20) 140px,rgba(228,225,221,0.17) 180px,rgba(228,225,221,0.01) 211px,rgba(228,225,221,0.53) 229px,rgba(228,225,221,0.29) 239px,rgba(228,225,221,0.44) 282px)"></div>
<div class="s" style="top:460.2px;height:3.1px;width:273px;background:linear-gradient(to right,rgba(228,225,221,0.42) 0px,rgba(228,225,221,0.06) 49px,rgba(228,225,221,0.22) 97px,rgba(228,225,221,0.14) 136px,rgba(228,225,221,0.01) 182px,rgba(228,225,221,0.12) 215px,rgba(228,225,221,0.20) 241px,rgba(228,225,221,0.45) 277px)"></div>
<div class="s" style="top:466.9px;height:2.2px;width:273px;background:linear-gradient(to right,rgba(154,147,140,0.32) 0px,rgba(154,147,140,0.03) 23px,rgba(154,147,140,0.26) 46px,rgba(154,147,140,0.26) 65px,rgba(154,147,140,0.24) 97px,rgba(154,147,140,0.04) 114px,rgba(154,147,140,0.12) 129px,rgba(154,147,140,0.00) 157px,rgba(154,147,140,0.14) 187px,rgba(154,147,140,0.19) 210px,rgba(154,147,140,0.07) 258px)"></div>
<div class="s" style="top:458.0px;height:3.0px;width:273px;background:linear-gradient(to right,rgba(154,147,140,0.35) 0px,rgba(154,147,140,0.34) 27px,rgba(154,147,140,0.14) 46px,rgba(154,147,140,0.06) 84px,rgba(154,147,140,0.24) 105px,rgba(154,147,140,0.11) 153px,rgba(154,147,140,0.13) 170px,rgba(154,147,140,0.05) 220px,rgba(154,147,140,0.13) 255px,rgba(154,147,140,0.07) 291px)"></div>
<div class="s" style="top:473.9px;height:3.2px;width:273px;background:linear-gradient(to right,rgba(228,225,221,0.28) 0px,rgba(228,225,221,0.06) 33px,rgba(228,225,221,0.38) 76px,rgba(228,225,221,0.37) 104px,rgba(228,225,221,0.21) 131px,rgba(228,225,221,0.33) 150px,rgba(228,225,221,0.28) 183px,rgba(228,225,221,0.35) 195px,rgba(228,225,221,0.33) 222px,rgba(228,225,221,0.51) 256px,rgba(228,225,221,0.26) 272px)"></div>
<div class="s" style="top:469.7px;height:2.1px;width:273px;background:linear-gradient(to right,rgba(228,225,221,0.54) 0px,rgba(228,225,221,0.48) 26px,rgba(228,225,221,0.54) 41px,rgba(228,225,221,0.13) 71px,rgba(228,225,221,0.36) 114px,rgba(228,225,221,0.46) 162px,rgba(228,225,221,0.28) 204px,rgba(228,225,221,0.04) 254px)"></div>
<div class="s" style="top:468.9px;height:2.0px;width:273px;background:linear-gradient(to right,rgba(228,225,221,0.25) 0px,rgba(228,225,221,0.48) 31px,rgba(228,225,221,0.15) 49px,rgba(228,225,221,0.04) 85px,rgba(228,225,221,0.43) 117px,rgba(228,225,221,0.13) 147px,rgba(228,225,221,0.47) 189px,rgba(228,225,221,0.30) 230px,rgba(228,225,221,0.44) 276px,rgba(228,225,221,0.20) 292px)"></div>
<div class="s m" style="top:480.0px;height:9.0px;width:273px;background:linear-gradient(to right,rgba(66,78,90,0.33) 0px,rgba(66,78,90,0.91) 14px,rgba(66,78,90,0.38) 40px,rgba(66,78,90,0.57) 51px,rgba(66,78,90,0.73) 77px,rgba(66,78,90,0.35) 105px,rgba(66,78,90,0.44) 134px,rgba(66,78,90,0.91) 156px,rgba(66,78,90,0.44) 179px,rgba(66,78,90,0.60) 201px,rgba(66,78,90,0.54) 207px,rgba(66,78,90,0.74) 221px,rgba(66,78,90,0.72) 234px,rgba(66,78,90,0.43) 256px,rgba(66,78,90,0.79) 265px,rgba(66,78,90,0.39) 283px,rgba(66,78,90,0.96) 291px)"></div>
<div class="s" style="top:496.0px;height:1.9px;width:273px;background:linear-gradient(to right,rgba(228,225,221,0.38) 0px,rgba(228,225,221,0.20) 39px,rgba(228,225,221,0.22) 62px,rgba(228,225,221,0.35) 78px,rgba(228,225,221,0.45) 105px,rgba(228,225,221,0.25) 131px,rgba(228,225,221,0.52) 161px,rgba(228,225,221,0.39) 185px,rgba(228,225,221,0.32) 205px,rgba(228,225,221,0.48) 226px,rgba(228,225,221,0.47) 247px,rgba(228,225,221,0.25) 284px)"></div>
<div class="s" style="top:496.6px;height:3.0px;width:273px;background:linear-gradient(to right,rgba(228,225,221,0.25) 0px,rgba(228,225,221,0.23) 13px,rgba(228,225,221,0.24) 34px,rgba(228,225,221,0.16) 82px,rgba(228,225,221,0.37) 120px,rgba(228,225,221,0.23) 140px,rgba(228,225,221,0.49) 155px,rgba(228,225,221,0.23) 175px,rgba(228,225,221,0.45) 199px,rgba(228,225,221,0.32) 243px,rgba(228,225,221,0.05) 274px)"></div>
<div class="s" style="top:490.7px;height:2.2px;width:273px;background:linear-gradient(to right,rgba(154,147,140,0.25) 0px,rgba(154,147,140,0.12) 37px,rgba(154,147,140,0.33) 83px,rgba(154,147,140,0.22) 94px,rgba(154,147,140,0.13) 122px,rgba(154,147,140,0.11) 151px,rgba(154,147,140,0.21) 188px,rgba(154,147,140,0.34) 237px,rgba(154,147,140,0.14) 286px)"></div>
<div class="s" style="top:501.8px;height:2.9px;width:273px;background:linear-gradient(to right,rgba(228,225,221,0.04) 0px,rgba(228,225,221,0.22) 28px,rgba(228,225,221,0.12) 65px,rgba(228,225,221,0.12) 114px,rgba(228,225,221,0.08) 139px,rgba(228,225,221,0.41) 165px,rgba(228,225,221,0.09) 178px,rgba(228,225,221,0.34) 214px,rgba(228,225,221,0.14) 254px)"></div>
<div class="s m" style="top:511.7px;height:11.3px;width:273px;background:linear-gradient(to right,rgba(67,79,90,0.81) 0px,rgba(67,79,90,0.38) 25px,rgba(67,79,90,0.31) 42px,rgba(67,79,90,0.96) 69px,rgba(67,79,90,0.32) 96px,rgba(67,79,90,0.68) 110px,rgba(67,79,90,0.38) 129px,rgba(67,79,90,0.51) 154px,rgba(67,79,90,0.39) 172px,rgba(67,79,90,0.39) 192px,rgba(67,79,90,0.66) 200px,rgba(67,79,90,0.84) 213px,rgba(67,79,90,0.59) 225px,rgba(67,79,90,0.45) 232px,rgba(67,79,90,0.69) 249px,rgba(67,79,90,0.90) 266px,rgba(67,79,90,0.90) 275px,rgba(67,79,90,0.98) 284px)"></div>
<div class="s" style="top:529.9px;height:2.7px;width:273px;background:linear-gradient(to right,rgba(228,225,221,0.53) 0px,rgba(228,225,221,0.01) 27px,rgba(228,225,221,0.45) 43px,rgba(228,225,221,0.39) 82px,rgba(228,225,221,0.29) 98px,rgba(228,225,221,0.06) 109px,rgba(228,225,221,0.53) 131px,rgba(228,225,221,0.47) 167px,rgba(228,225,221,0.23) 179px,rgba(228,225,221,0.14) 192px,rgba(228,225,221,0.51) 207px,rgba(228,225,221,0.27) 230px,rgba(228,225,221,0.49) 266px)"></div>
<div class="s" style="top:532.7px;height:2.5px;width:273px;background:linear-gradient(to right,rgba(228,225,221,0.22) 0px,rgba(228,225,221,0.41) 22px,rgba(228,225,221,0.20) 42px,rgba(228,225,221,0.26) 69px,rgba(228,225,221,0.24) 94px,rgba(228,225,221,0.03) 122px,rgba(228,225,221,0.03) 165px,rgba(228,225,221,0.30) 196px,rgba(228,225,221,0.12) 222px,rgba(228,225,221,0.20) 236px,rgba(228,225,221,0.27) 259px,rgba(228,225,221,0.41) 278px)"></div>
<div class="s" style="top:523.2px;height:2.3px;width:273px;background:linear-gradient(to right,rgba(228,225,221,0.00) 0px,rgba(228,225,221,0.53) 34px,rgba(228,225,221,0.33) 58px,rgba(228,225,221,0.17) 83px,rgba(228,225,221,0.32) 117px,rgba(228,225,221,0.27) 140px,rgba(228,225,221,0.41) 171px,rgba(228,225,221,0.05) 183px,rgba(228,225,221,0.15) 203px,rgba(228,225,221,0.23) 245px,rgba(228,225,221,0.22) 289px)"></div>
<div class="s" style="top:534.6px;height:1.7px;width:273px;background:linear-gradient(to right,rgba(228,225,221,0.46) 0px,rgba(228,225,221,0.17) 23px,rgba(228,225,221,0.43) 66px,rgba(228,225,221,0.03) 102px,rgba(228,225,221,0.03) 142px,rgba(228,225,221,0.30) 177px,rgba(228,225,221,0.35) 224px,rgba(228,225,221,0.51) 235px,rgba(228,225,221,0.32) 275px,rgba(228,225,221,0.41) 285px)"></div>
<div class="s" style="top:546.4px;height:3.5px;width:273px;background:linear-gradient(to right,rgba(228,225,221,0.04) 0px,rgba(228,225,221,0.24) 41px,rgba(228,225,221,0.21) 81px,rgba(228,225,221,0.24) 109px,rgba(228,225,221,0.18) 124px,rgba(228,225,221,0.04) 163px,rgba(228,225,221,0.46) 178px,rgba(228,225,221,0.30) 215px,rgba(228,225,221,0.07) 229px,rgba(228,225,221,0.52) 252px,rgba(228,225,221,0.51) 284px)"></div>
<div class="s m" style="top:551.0px;height:14.5px;width:273px;background:linear-gradient(to right,rgba(66,78,90,0.59) 0px,rgba(66,78,90,0.89) 19px,rgba(66,78,90,0.91) 28px,rgba(66,78,90,0.32) 45px,rgba(66,78,90,0.56) 62px,rgba(66,78,90,0.95) 84px,rgba(66,78,90,0.78) 102px,rgba(66,78,90,0.85) 117px,rgba(66,78,90,0.82) 125px,rgba(66,78,90,0.71) 135px,rgba(66,78,90,0.54) 146px,rgba(66,78,90,0.54) 156px,rgba(66,78,90,0.66) 176px,rgba(66,78,90,0.70) 192px,rgba(66,78,90,0.55) 218px,rgba(66,78,90,0.64) 238px,rgba(66,78,90,0.53) 267px,rgba(66,78,90,0.46) 290px)"></div>
<div class="s" style="top:579.7px;height:2.6px;width:273px;background:linear-gradient(to right,rgba(154,147,140,0.02) 0px,rgba(154,147,140,0.13) 43px,rgba(154,147,140,0.15) 82px,rgba(154,147,140,0.20) 116px,rgba(154,147,140,0.32) 165px,rgba(154,147,140,0.17) 194px,rgba(154,147,140,0.26) 213px,rgba(154,147,140,0.11) 227px,rgba(154,147,140,0.01) 271px)"></div>
<div class="s" style="top:576.6px;height:2.6px;width:273px;background:linear-gradient(to right,rgba(154,147,140,0.05) 0px,rgba(154,147,140,0.27) 48px,rgba(154,147,140,0.03) 90px,rgba(154,147,140,0.08) 132px,rgba(154,147,140,0.19) 150px,rgba(154,147,140,0.04) 184px,rgba(154,147,140,0.20) 225px,rgba(154,147,140,0.32) 271px)"></div>
<div class="s" style="top:572.6px;height:3.4px;width:273px;background:linear-gradient(to right,rgba(228,225,221,0.16) 0px,rgba(228,225,221,0.40) 44px,rgba(228,225,221,0.14) 65px,rgba(228,225,221,0.30) 76px,rgba(228,225,221,0.16) 96px,rgba(228,225,221,0.07) 116px,rgba(228,225,221,0.15) 145px,rgba(228,225,221,0.15) 167px,rgba(228,225,221,0.48) 197px,rgba(228,225,221,0.47) 214px,rgba(228,225,221,0.34) 258px,rgba(228,225,221,0.40) 289px)"></div>
<div class="s" style="top:578.4px;height:3.3px;width:273px;background:linear-gradient(to right,rgba(228,225,221,0.14) 0px,rgba(228,225,221,0.52) 12px,rgba(228,225,221,0.43) 37px,rgba(228,225,221,0.25) 56px,rgba(228,225,221,0.40) 81px,rgba(228,225,221,0.28) 129px,rgba(228,225,221,0.19) 161px,rgba(228,225,221,0.52) 181px,rgba(228,225,221,0.52) 195px,rgba(228,225,221,0.04) 231px,rgba(228,225,221,0.06) 277px)"></div>
<div class="s" style="top:588.7px;height:3.5px;width:273px;background:linear-gradient(to right,rgba(154,147,140,0.31) 0px,rgba(154,147,140,0.23) 12px,rgba(154,147,140,0.01) 25px,rgba(154,147,140,0.34) 58px,rgba(154,147,140,0.30) 95px,rgba(154,147,140,0.18) 137px,rgba(154,147,140,0.18) 150px,rgba(154,147,140,0.18) 167px,rgba(154,147,140,0.17) 191px,rgba(154,147,140,0.25) 209px,rgba(154,147,140,0.17) 236px,rgba(154,147,140,0.17) 249px,rgba(154,147,140,0.34) 281px)"></div>
<div class="s" style="top:597.8px;height:2.1px;width:273px;background:linear-gradient(to right,rgba(154,147,140,0.25) 0px,rgba(154,147,140,0.34) 48px,rgba(154,147,140,0.32) 96px,rgba(154,147,140,0.33) 140px,rgba(154,147,140,0.17) 151px,rgba(154,147,140,0.24) 184px,rgba(154,147,140,0.21) 219px,rgba(154,147,140,0.03) 266px)"></div>
<div class="s" style="top:612.7px;height:1.6px;width:273px;background:linear-gradient(to right,rgba(154,147,140,0.30) 0px,rgba(154,147,140,0.01) 48px,rgba(154,147,140,0.29) 60px,rgba(154,147,140,0.18) 97px,rgba(154,147,140,0.27) 130px,rgba(154,147,140,0.00) 173px,rgba(154,147,140,0.28) 185px,rgba(154,147,140,0.29) 234px,rgba(154,147,140,0.12) 261px,rgba(154,147,140,0.01) 285px)"></div>
<div class="s" style="top:607.8px;height:2.7px;width:273px;background:linear-gradient(to right,rgba(154,147,140,0.12) 0px,rgba(154,147,140,0.16) 37px,rgba(154,147,140,0.31) 56px,rgba(154,147,140,0.05) 73px,rgba(154,147,140,0.17) 94px,rgba(154,147,140,0.12) 135px,rgba(154,147,140,0.23) 154px,rgba(154,147,140,0.18) 175px,rgba(154,147,140,0.31) 195px,rgba(154,147,140,0.08) 212px,rgba(154,147,140,0.12) 234px,rgba(154,147,140,0.24) 274px)"></div>
<div class="s m" style="top:616.0px;height:12.0px;width:273px;background:linear-gradient(to right,rgba(72,84,96,0.68) 0px,rgba(72,84,96,0.83) 8px,rgba(72,84,96,0.45) 20px,rgba(72,84,96,0.99) 36px,rgba(72,84,96,0.55) 51px,rgba(72,84,96,0.99) 78px,rgba(72,84,96,0.39) 94px,rgba(72,84,96,0.85) 119px,rgba(72,84,96,0.85) 133px,rgba(72,84,96,0.50) 148px,rgba(72,84,96,0.82) 168px,rgba(72,84,96,0.87) 186px,rgba(72,84,96,0.65) 192px,rgba(72,84,96,0.35) 207px,rgba(72,84,96,0.40) 235px,rgba(72,84,96,0.91) 246px,rgba(72,84,96,0.95) 275px,rgba(72,84,96,0.95) 289px)"></div>
<div class="s" style="top:632.3px;height:3.4px;width:273px;background:linear-gradient(to right,rgba(154,147,140,0.05) 0px,rgba(154,147,140,0.31) 37px,rgba(154,147,140,0.33) 76px,rgba(154,147,140,0.13) 104px,rgba(154,147,140,0.10) 119px,rgba(154,147,140,0.03) 167px,rgba(154,147,140,0.12) 184px,rgba(154,147,140,0.11) 196px,rgba(154,147,140,0.04) 213px,rgba(154,147,140,0.19) 244px,rgba(154,147,140,0.27) 277px)"></div>
<div class="s" style="top:644.6px;height:1.7px;width:273px;background:linear-gradient(to right,rgba(154,147,140,0.03) 0px,rgba(154,147,140,0.27) 22px,rgba(154,147,140,0.18) 69px,rgba(154,147,140,0.12) 86px,rgba(154,147,140,0.10) 118px,rgba(154,147,140,0.34) 160px,rgba(154,147,140,0.21) 189px,rgba(154,147,140,0.16) 232px,rgba(154,147,140,0.33) 250px)"></div>
<div class="s" style="top:637.2px;height:3.0px;width:273px;background:linear-gradient(to right,rgba(154,147,140,0.02) 0px,rgba(154,147,140,0.06) 17px,rgba(154,147,140,0.07) 56px,rgba(154,147,140,0.08) 67px,rgba(154,147,140,0.17) 109px,rgba(154,147,140,0.16) 145px,rgba(154,147,140,0.01) 162px,rgba(154,147,140,0.01) 184px,rgba(154,147,140,0.22) 205px,rgba(154,147,140,0.17) 230px,rgba(154,147,140,0.11) 264px,rgba(154,147,140,0.31) 289px)"></div>
<div class="s" style="top:651.2px;height:2.6px;width:273px;background:linear-gradient(to right,rgba(154,147,140,0.12) 0px,rgba(154,147,140,0.08) 47px,rgba(154,147,140,0.30) 94px,rgba(154,147,140,0.06) 139px,rgba(154,147,140,0.34) 170px,rgba(154,147,140,0.06) 191px,rgba(154,147,140,0.08) 230px,rgba(154,147,140,0.06) 263px)"></div>
<div class="s" style="top:650.2px;height:1.7px;width:273px;background:linear-gradient(to right,rgba(228,225,221,0.19) 0px,rgba(228,225,221,0.27) 32px,rgba(228,225,221,0.28) 79px,rgba(228,225,221,0.00) 104px,rgba(228,225,221,0.15) 134px,rgba(228,225,221,0.35) 167px,rgba(228,225,221,0.05) 196px,rgba(228,225,221,0.26) 226px,rgba(228,225,221,0.53) 261px,rgba(228,225,221,0.24) 283px)"></div>
<div class="s m" style="top:658.6px;height:10.1px;width:273px;background:linear-gradient(to right,rgba(71,82,93,0.86) 0px,rgba(71,82,93,0.88) 12px,rgba(71,82,93,0.48) 37px,rgba(71,82,93,0.65) 64px,rgba(71,82,93,0.69) 81px,rgba(71,82,93,0.64) 109px,rgba(71,82,93,0.50) 127px,rgba(71,82,93,0.65) 153px,rgba(71,82,93,0.44) 167px,rgba(71,82,93,0.88) 179px,rgba(71,82,93,0.99) 204px,rgba(71,82,93,0.78) 232px,rgba(71,82,93,0.80) 257px,rgba(71,82,93,0.86) 282px,rgba(71,82,93,0.87) 293px)"></div>
<div class="s m" style="top:668.7px;height:12.3px;width:273px;background:linear-gradient(to right,rgba(160,108,91,0.70) 0px,rgba(160,108,91,0.61) 28px,rgba(160,108,91,0.74) 46px,rgba(160,108,91,0.84) 71px,rgba(160,108,91,0.97) 99px,rgba(160,108,91,0.63) 121px,rgba(160,108,91,0.64) 143px,rgba(160,108,91,0.95) 172px,rgba(160,108,91,0.67) 186px,rgba(160,108,91,0.90) 208px,rgba(160,108,91,0.85) 238px,rgba(160,108,91,0.89) 247px,rgba(160,108,91,0.95) 254px,rgba(160,108,91,0.91) 279px)"></div>
<div class="s m" style="top:681.0px;height:10.0px;width:273px;background:linear-gradient(to right,rgba(70,82,93,0.70) 0px,rgba(70,82,93,0.75) 29px,rgba(70,82,93,0.57) 46px,rgba(70,82,93,0.32) 61px,rgba(70,82,93,0.86) 71px,rgba(70,82,93,0.76) 82px,rgba(70,82,93,0.79) 107px,rgba(70,82,93,0.52) 125px,rgba(70,82,93,0.43) 138px,rgba(70,82,93,0.78) 159px,rgba(70,82,93,0.53) 188px,rgba(70,82,93,0.94) 216px,rgba(70,82,93,0.97) 229px,rgba(70,82,93,0.97) 250px,rgba(70,82,93,0.53) 275px,rgba(70,82,93,0.67) 287px)"></div>
<div class="s" style="top:691.8px;height:3.2px;width:273px;background:linear-gradient(to right,rgba(154,147,140,0.17) 0px,rgba(154,147,140,0.09) 40px,rgba(154,147,140,0.20) 58px,rgba(154,147,140,0.11) 77px,rgba(154,147,140,0.02) 90px,rgba(154,147,140,0.18) 114px,rgba(154,147,140,0.22) 162px,rgba(154,147,140,0.14) 189px,rgba(154,147,140,0.17) 208px,rgba(154,147,140,0.04) 257px,rgba(154,147,140,0.24) 284px)"></div>
<div class="s" style="top:703.8px;height:2.8px;width:273px;background:linear-gradient(to right,rgba(228,225,221,0.50) 0px,rgba(228,225,221,0.30) 20px,rgba(228,225,221,0.29) 70px,rgba(228,225,221,0.42) 88px,rgba(228,225,221,0.08) 100px,rgba(228,225,221,0.15) 132px,rgba(228,225,221,0.40) 171px,rgba(228,225,221,0.42) 193px,rgba(228,225,221,0.39) 229px,rgba(228,225,221,0.24) 258px,rgba(228,225,221,0.26) 272px)"></div>
<div class="s" style="top:711.4px;height:1.6px;width:273px;background:linear-gradient(to right,rgba(154,147,140,0.09) 0px,rgba(154,147,140,0.15) 38px,rgba(154,147,140,0.15) 53px,rgba(154,147,140,0.26) 86px,rgba(154,147,140,0.23) 112px,rgba(154,147,140,0.22) 149px,rgba(154,147,140,0.25) 161px,rgba(154,147,140,0.02) 176px,rgba(154,147,140,0.01) 205px,rgba(154,147,140,0.14) 218px,rgba(154,147,140,0.04) 247px)"></div>
<div class="s" style="top:710.6px;height:2.5px;width:273px;background:linear-gradient(to right,rgba(154,147,140,0.11) 0px,rgba(154,147,140,0.04) 49px,rgba(154,147,140,0.08) 72px,rgba(154,147,140,0.18) 116px,rgba(154,147,140,0.14) 143px,rgba(154,147,140,0.09) 188px,rgba(154,147,140,0.25) 230px,rgba(154,147,140,0.13) 258px,rgba(154,147,140,0.16) 285px)"></div>
<div class="s" style="top:705.3px;height:2.3px;width:273px;background:linear-gradient(to right,rgba(154,147,140,0.27) 0px,rgba(154,147,140,0.17) 28px,rgba(154,147,140,0.16) 73px,rgba(154,147,140,0.31) 98px,rgba(154,147,140,0.27) 147px,rgba(154,147,140,0.23) 174px,rgba(154,147,140,0.10) 213px,rgba(154,147,140,0.33) 252px,rgba(154,147,140,0.23) 288px)"></div>
<div class="s" style="top:725.2px;height:2.0px;width:273px;background:linear-gradient(to right,rgba(228,225,221,0.30) 0px,rgba(228,225,221,0.19) 49px,rgba(228,225,221,0.01) 88px,rgba(228,225,221,0.42) 114px,rgba(228,225,221,0.34) 135px,rgba(228,225,221,0.22) 154px,rgba(228,225,221,0.11) 203px,rgba(228,225,221,0.03) 250px,rgba(228,225,221,0.45) 283px)"></div>
<div class="s" style="top:721.9px;height:2.7px;width:273px;background:linear-gradient(to right,rgba(228,225,221,0.42) 0px,rgba(228,225,221,0.32) 40px,rgba(228,225,221,0.39) 60px,rgba(228,225,221,0.30) 92px,rgba(228,225,221,0.08) 142px,rgba(228,225,221,0.18) 183px,rgba(228,225,221,0.52) 222px,rgba(228,225,221,0.31) 243px,rgba(228,225,221,0.27) 274px,rgba(228,225,221,0.34) 291px)"></div>
<div class="s" style="top:725.4px;height:2.1px;width:273px;background:linear-gradient(to right,rgba(228,225,221,0.23) 0px,rgba(228,225,221,0.33) 16px,rgba(228,225,221,0.29) 44px,rgba(228,225,221,0.31) 94px,rgba(228,225,221,0.19) 142px,rgba(228,225,221,0.04) 182px,rgba(228,225,221,0.38) 204px,rgba(228,225,221,0.46) 242px,rgba(228,225,221,0.15) 267px,rgba(228,225,221,0.30) 292px)"></div>
<div class="s m" style="top:732.6px;height:11.2px;width:273px;background:linear-gradient(to right,rgba(161,112,98,0.75) 0px,rgba(161,112,98,0.66) 22px,rgba(161,112,98,0.95) 35px,rgba(161,112,98,0.70) 64px,rgba(161,112,98,0.65) 74px,rgba(161,112,98,0.92) 82px,rgba(161,112,98,0.71) 106px,rgba(161,112,98,0.88) 123px,rgba(161,112,98,0.93) 130px,rgba(161,112,98,0.68) 157px,rgba(161,112,98,0.88) 180px,rgba(161,112,98,0.95) 194px,rgba(161,112,98,0.79) 205px,rgba(161,112,98,0.78) 218px,rgba(161,112,98,0.83) 244px,rgba(161,112,98,0.99) 265px,rgba(161,112,98,0.69) 276px)"></div>
<div class="s" style="top:745.9px;height:3.4px;width:273px;background:linear-gradient(to right,rgba(154,147,140,0.15) 0px,rgba(154,147,140,0.29) 27px,rgba(154,147,140,0.24) 74px,rgba(154,147,140,0.12) 91px,rgba(154,147,140,0.08) 129px,rgba(154,147,140,0.31) 174px,rgba(154,147,140,0.13) 193px,rgba(154,147,140,0.25) 212px,rgba(154,147,140,0.24) 224px,rgba(154,147,140,0.29) 237px,rgba(154,147,140,0.20) 269px,rgba(154,147,140,0.02) 282px)"></div>
<div class="s" style="top:757.8px;height:2.7px;width:273px;background:linear-gradient(to right,rgba(228,225,221,0.03) 0px,rgba(228,225,221,0.01) 14px,rgba(228,225,221,0.10) 52px,rgba(228,225,221,0.37) 73px,rgba(228,225,221,0.18) 111px,rgba(228,225,221,0.16) 139px,rgba(228,225,221,0.20) 172px,rgba(228,225,221,0.14) 196px,rgba(228,225,221,0.14) 218px,rgba(228,225,221,0.17) 229px,rgba(228,225,221,0.15) 262px,rgba(228,225,221,0.47) 277px)"></div>
<div class="s" style="top:751.1px;height:2.1px;width:273px;background:linear-gradient(to right,rgba(228,225,221,0.41) 0px,rgba(228,225,221,0.36) 35px,rgba(228,225,221,0.28) 73px,rgba(228,225,221,0.21) 99px,rgba(228,225,221,0.26) 129px,rgba(228,225,221,0.29) 160px,rgba(228,225,221,0.49) 202px,rgba(228,225,221,0.01) 221px,rgba(228,225,221,0.02) 243px,rgba(228,225,221,0.34) 285px)"></div>
</div>
<div id="pr">
<div class="s" style="top:3.0px;height:3.4px;width:260px;background:linear-gradient(to right,rgba(228,225,221,0.05) 0px,rgba(228,225,221,0.23) 34px,rgba(228,225,221,0.07) 65px,rgba(228,225,221,0.24) 83px,rgba(228,225,221,0.25) 101px,rgba(228,225,221,0.05) 112px,rgba(228,225,221,0.23) 151px,rgba(228,225,221,0.40) 181px,rgba(228,225,221,0.03) 206px,rgba(228,225,221,0.32) 247px)"></div>
<div class="s m" style="top:6.3px;height:11.2px;width:260px;background:linear-gradient(to right,rgba(161,111,95,0.85) 0px,rgba(161,111,95,0.75) 29px,rgba(161,111,95,0.75) 54px,rgba(161,111,95,0.86) 73px,rgba(161,111,95,0.63) 87px,rgba(161,111,95,0.89) 104px,rgba(161,111,95,0.78) 124px,rgba(161,111,95,0.67) 146px,rgba(161,111,95,0.73) 156px,rgba(161,111,95,0.68) 182px,rgba(161,111,95,0.64) 190px,rgba(161,111,95,0.71) 197px,rgba(161,111,95,0.93) 217px,rgba(161,111,95,0.75) 231px,rgba(161,111,95,0.72) 244px,rgba(161,111,95,0.82) 269px)"></div>
<div class="s" style="top:18.3px;height:3.1px;width:260px;background:linear-gradient(to right,rgba(228,225,221,0.46) 0px,rgba(228,225,221,0.30) 20px,rgba(228,225,221,0.33) 66px,rgba(228,225,221,0.09) 114px,rgba(228,225,221,0.03) 163px,rgba(228,225,221,0.01) 190px,rgba(228,225,221,0.38) 232px)"></div>
<div class="s" style="top:23.2px;height:3.4px;width:260px;background:linear-gradient(to right,rgba(154,147,140,0.35) 0px,rgba(154,147,140,0.12) 40px,rgba(154,147,140,0.13) 89px,rgba(154,147,140,0.03) 107px,rgba(154,147,140,0.07) 135px,rgba(154,147,140,0.33) 183px,rgba(154,147,140,0.04) 201px,rgba(154,147,140,0.06) 232px,rgba(154,147,140,0.28) 264px)"></div>
<div class="s" style="top:39.6px;height:3.3px;width:260px;background:linear-gradient(to right,rgba(154,147,140,0.12) 0px,rgba(154,147,140,0.28) 46px,rgba(154,147,140,0.24) 92px,rgba(154,147,140,0.24) 118px,rgba(154,147,140,0.22) 161px,rgba(154,147,140,0.10) 181px,rgba(154,147,140,0.27) 207px,rgba(154,147,140,0.19) 239px)"></div>
<div class="s" style="top:30.7px;height:2.8px;width:260px;background:linear-gradient(to right,rgba(154,147,140,0.20) 0px,rgba(154,147,140,0.09) 43px,rgba(154,147,140,0.03) 91px,rgba(154,147,140,0.19) 124px,rgba(154,147,140,0.20) 143px,rgba(154,147,140,0.16) 172px,rgba(154,147,140,0.00) 211px,rgba(154,147,140,0.27) 236px,rgba(154,147,140,0.30) 252px,rgba(154,147,140,0.24) 270px)"></div>
<div class="s" style="top:40.4px;height:2.3px;width:260px;background:linear-gradient(to right,rgba(154,147,140,0.24) 0px,rgba(154,147,140,0.24) 29px,rgba(154,147,140,0.19) 61px,rgba(154,147,140,0.10) 92px,rgba(154,147,140,0.03) 138px,rgba(154,147,140,0.30) 183px,rgba(154,147,140,0.27) 213px,rgba(154,147,140,0.21) 250px,rgba(154,147,140,0.11) 271px)"></div>
<div class="s" style="top:36.2px;height:3.4px;width:260px;background:linear-gradient(to right,rgba(154,147,140,0.14) 0px,rgba(154,147,140,0.29) 27px,rgba(154,147,140,0.19) 56px,rgba(154,147,140,0.10) 76px,rgba(154,147,140,0.08) 90px,rgba(154,147,140,0.30) 110px,rgba(154,147,140,0.04) 140px,rgba(154,147,140,0.04) 169px,rgba(154,147,140,0.15) 201px,rgba(154,147,140,0.09) 246px)"></div>
<div class="s" style="top:34.6px;height:3.5px;width:260px;background:linear-gradient(to right,rgba(228,225,221,0.02) 0px,rgba(228,225,221,0.15) 42px,rgba(228,225,221,0.08) 67px,rgba(228,225,221,0.05) 110px,rgba(228,225,221,0.22) 150px,rgba(228,225,221,0.16) 187px,rgba(228,225,221,0.50) 200px,rgba(228,225,221,0.09) 236px)"></div>
<div class="s" style="top:53.5px;height:1.9px;width:260px;background:linear-gradient(to right,rgba(154,147,140,0.21) 0px,rgba(154,147,140,0.26) 16px,rgba(154,147,140,0.25) 44px,rgba(154,147,140,0.27) 77px,rgba(154,147,140,0.21) 120px,rgba(154,147,140,0.11) 154px,rgba(154,147,140,0.03) 169px,rgba(154,147,140,0.07) 213px,rgba(154,147,140,0.11) 240px,rgba(154,147,140,0.19) 275px)"></div>
<div class="s m" style="top:59.0px;height:11.2px;width:260px;background:linear-gradient(to right,rgba(64,76,87,0.61) 0px,rgba(64,76,87,0.76) 15px,rgba(64,76,87,0.95) 39px,rgba(64,76,87,0.92) 52px,rgba(64,76,87,0.99) 82px,rgba(64,76,87,0.57) 91px,rgba(64,76,87,0.88) 115px,rgba(64,76,87,0.58) 122px,rgba(64,76,87,0.83) 146px,rgba(64,76,87,0.45) 164px,rgba(64,76,87,0.34) 180px,rgba(64,76,87,0.60) 194px,rgba(64,76,87,0.71) 220px,rgba(64,76,87,0.47) 235px,rgba(64,76,87,0.77) 249px,rgba(64,76,87,0.42) 266px)"></div>
<div class="s m" style="top:70.2px;height:12.3px;width:260px;background:linear-gradient(to right,rgba(166,121,93,0.83) 0px,rgba(166,121,93,0.81) 29px,rgba(166,121,93,0.77) 50px,rgba(166,121,93,0.97) 71px,rgba(166,121,93,0.86) 100px,rgba(166,121,93,0.63) 117px,rgba(166,121,93,0.76) 143px,rgba(166,121,93,0.62) 158px,rgba(166,121,93,0.76) 165px,rgba(166,121,93,0.90) 194px,rgba(166,121,93,0.87) 217px,rgba(166,121,93,0.67) 230px,rgba(166,121,93,0.63) 250px,rgba(166,121,93,0.81) 270px)"></div>
<div class="s m" style="top:82.5px;height:10.1px;width:260px;background:linear-gradient(to right,rgba(70,82,93,0.38) 0px,rgba(70,82,93,0.63) 8px,rgba(70,82,93,0.75) 17px,rgba(70,82,93,0.73) 31px,rgba(70,82,93,0.72) 55px,rgba(70,82,93,0.44) 73px,rgba(70,82,93,0.98) 88px,rgba(70,82,93,0.50) 100px,rgba(70,82,93,0.68) 118px,rgba(70,82,93,0.51) 143px,rgba(70,82,93,0.32) 172px,rgba(70,82,93,0.70) 197px,rgba(70,82,93,0.41) 225px,rgba(70,82,93,0.96) 247px,rgba(70,82,93,0.38) 269px)"></div>
<div class="s" style="top:100.6px;height:1.7px;width:260px;background:linear-gradient(to right,rgba(228,225,221,0.04) 0px,rgba(228,225,221,0.44) 13px,rgba(228,225,221,0.53) 52px,rgba(228,225,221,0.28) 87px,rgba(228,225,221,0.32) 108px,rgba(228,225,221,0.36) 158px,rgba(228,225,221,0.11) 203px,rgba(228,225,221,0.40) 242px,rgba(228,225,221,0.45) 255px,rgba(228,225,221,0.12) 272px)"></div>
<div class="s" style="top:98.0px;height:1.8px;width:260px;background:linear-gradient(to right,rgba(228,225,221,0.00) 0px,rgba(228,225,221,0.42) 42px,rgba(228,225,221,0.31) 75px,rgba(228,225,221,0.35) 117px,rgba(228,225,221,0.44) 133px,rgba(228,225,221,0.32) 157px,rgba(228,225,221,0.50) 187px,rgba(228,225,221,0.47) 214px,rgba(228,225,221,0.18) 227px,rgba(228,225,221,0.34) 264px)"></div>
<div class="s" style="top:105.0px;height:3.1px;width:260px;background:linear-gradient(to right,rgba(228,225,221,0.08) 0px,rgba(228,225,221,0.32) 16px,rgba(228,225,221,0.34) 65px,rgba(228,225,221,0.28) 92px,rgba(228,225,221,0.29) 134px,rgba(228,225,221,0.33) 166px,rgba(228,225,221,0.44) 213px,rgba(228,225,221,0.15) 256px)"></div>
<div class="s" style="top:116.2px;height:2.9px;width:260px;background:linear-gradient(to right,rgba(228,225,221,0.50) 0px,rgba(228,225,221,0.28) 15px,rgba(228,225,221,0.11) 39px,rgba(228,225,221,0.54) 69px,rgba(228,225,221,0.05) 110px,rgba(228,225,221,0.20) 130px,rgba(228,225,221,0.25) 175px,rgba(228,225,221,0.30) 192px,rgba(228,225,221,0.02) 212px,rgba(228,225,221,0.54) 245px)"></div>
<div class="s m" style="top:120.0px;height:10.7px;width:260px;background:linear-gradient(to right,rgba(71,82,93,0.82) 0px,rgba(71,82,93,0.69) 10px,rgba(71,82,93,0.83) 31px,rgba(71,82,93,0.34) 48px,rgba(71,82,93,0.49) 76px,rgba(71,82,93,0.62) 100px,rgba(71,82,93,0.54) 124px,rgba(71,82,93,0.60) 133px,rgba(71,82,93,0.85) 150px,rgba(71,82,93,0.77) 166px,rgba(71,82,93,0.81) 181px,rgba(71,82,93,0.92) 191px,rgba(71,82,93,0.32) 220px,rgba(71,82,93,0.84) 246px,rgba(71,82,93,0.37) 269px)"></div>
<div class="s" style="top:138.6px;height:2.8px;width:260px;background:linear-gradient(to right,rgba(228,225,221,0.52) 0px,rgba(228,225,221,0.51) 35px,rgba(228,225,221,0.16) 51px,rgba(228,225,221,0.29) 82px,rgba(228,225,221,0.35) 130px,rgba(228,225,221,0.34) 165px,rgba(228,225,221,0.22) 213px,rgba(228,225,221,0.33) 253px,rgba(228,225,221,0.19) 279px)"></div>
<div class="s" style="top:130.8px;height:2.2px;width:260px;background:linear-gradient(to right,rgba(154,147,140,0.03) 0px,rgba(154,147,140,0.12) 29px,rgba(154,147,140,0.27) 76px,rgba(154,147,140,0.30) 113px,rgba(154,147,140,0.04) 134px,rgba(154,147,140,0.08) 168px,rgba(154,147,140,0.15) 218px,rgba(154,147,140,0.09) 263px,rgba(154,147,140,0.22) 277px)"></div>
<div class="s" style="top:145.8px;height:3.4px;width:260px;background:linear-gradient(to right,rgba(228,225,221,0.38) 0px,rgba(228,225,221,0.54) 49px,rgba(228,225,221,0.40) 65px,rgba(228,225,221,0.40) 105px,rgba(228,225,221,0.30) 129px,rgba(228,225,221,0.47) 162px,rgba(228,225,221,0.21) 174px,rgba(228,225,221,0.44) 197px,rgba(228,225,221,0.03) 211px,rgba(228,225,221,0.06) 226px,rgba(228,225,221,0.48) 253px,rgba(228,225,221,0.06) 278px)"></div>
<div class="s" style="top:146.3px;height:2.6px;width:260px;background:linear-gradient(to right,rgba(228,225,221,0.25) 0px,rgba(228,225,221,0.34) 39px,rgba(228,225,221,0.42) 83px,rgba(228,225,221,0.41) 129px,rgba(228,225,221,0.28) 151px,rgba(228,225,221,0.43) 192px,rgba(228,225,221,0.46) 231px,rgba(228,225,221,0.30) 274px)"></div>
<div class="s" style="top:154.4px;height:2.5px;width:260px;background:linear-gradient(to right,rgba(228,225,221,0.50) 0px,rgba(228,225,221,0.24) 44px,rgba(228,225,221,0.49) 63px,rgba(228,225,221,0.11) 99px,rgba(228,225,221,0.48) 111px,rgba(228,225,221,0.06) 144px,rgba(228,225,221,0.32) 194px,rgba(228,225,221,0.44) 234px,rgba(228,225,221,0.29) 254px,rgba(228,225,221,0.34) 271px)"></div>
<div class="s" style="top:161.6px;height:1.7px;width:260px;background:linear-gradient(to right,rgba(154,147,140,0.14) 0px,rgba(154,147,140,0.14) 10px,rgba(154,147,140,0.30) 59px,rgba(154,147,140,0.29) 76px,rgba(154,147,140,0.08) 95px,rgba(154,147,140,0.10) 130px,rgba(154,147,140,0.03) 148px,rgba(154,147,140,0.07) 165px,rgba(154,147,140,0.01) 212px,rgba(154,147,140,0.07) 243px)"></div>
<div class="s" style="top:166.6px;height:2.2px;width:260px;background:linear-gradient(to right,rgba(228,225,221,0.01) 0px,rgba(228,225,221,0.18) 26px,rgba(228,225,221,0.35) 56px,rgba(228,225,221,0.48) 69px,rgba(228,225,221,0.42) 90px,rgba(228,225,221,0.05) 105px,rgba(228,225,221,0.05) 123px,rgba(228,225,221,0.08) 143px,rgba(228,225,221,0.47) 156px,rgba(228,225,221,0.27) 187px,rgba(228,225,221,0.45) 218px,rgba(228,225,221,0.02) 230px,rgba(228,225,221,0.00) 266px)"></div>
<div class="s" style="top:173.7px;height:3.2px;width:260px;background:linear-gradient(to right,rgba(154,147,140,0.14) 0px,rgba(154,147,140,0.20) 23px,rgba(154,147,140,0.26) 34px,rgba(154,147,140,0.19) 82px,rgba(154,147,140,0.29) 119px,rgba(154,147,140,0.29) 163px,rgba(154,147,140,0.03) 192px,rgba(154,147,140,0.30) 234px,rgba(154,147,140,0.11) 272px)"></div>
<div class="s m" style="top:181.0px;height:14.7px;width:260px;background:linear-gradient(to right,rgba(66,78,89,0.74) 0px,rgba(66,78,89,0.85) 13px,rgba(66,78,89,0.47) 25px,rgba(66,78,89,0.34) 53px,rgba(66,78,89,0.58) 79px,rgba(66,78,89,0.78) 99px,rgba(66,78,89,0.45) 127px,rgba(66,78,89,0.66) 135px,rgba(66,78,89,0.60) 146px,rgba(66,78,89,0.36) 155px,rgba(66,78,89,0.34) 175px,rgba(66,78,89,0.57) 187px,rgba(66,78,89,0.86) 195px,rgba(66,78,89,0.32) 223px,rgba(66,78,89,0.42) 248px,rgba(66,78,89,0.34) 272px)"></div>
<div class="s" style="top:203.4px;height:2.0px;width:260px;background:linear-gradient(to right,rgba(154,147,140,0.12) 0px,rgba(154,147,140,0.27) 44px,rgba(154,147,140,0.32) 61px,rgba(154,147,140,0.34) 100px,rgba(154,147,140,0.06) 149px,rgba(154,147,140,0.01) 188px,rgba(154,147,140,0.19) 206px,rgba(154,147,140,0.08) 225px,rgba(154,147,140,0.16) 250px)"></div>
<div class="s" style="top:200.5px;height:2.6px;width:260px;background:linear-gradient(to right,rgba(228,225,221,0.10) 0px,rgba(228,225,221,0.42) 42px,rgba(228,225,221,0.25) 85px,rgba(228,225,221,0.04) 116px,rgba(228,225,221,0.35) 145px,rgba(228,225,221,0.49) 193px,rgba(228,225,221,0.42) 216px,rgba(228,225,221,0.53) 261px)"></div>
<div class="s" style="top:211.2px;height:3.2px;width:260px;background:linear-gradient(to right,rgba(154,147,140,0.20) 0px,rgba(154,147,140,0.31) 28px,rgba(154,147,140,0.07) 63px,rgba(154,147,140,0.01) 80px,rgba(154,147,140,0.27) 120px,rgba(154,147,140,0.08) 145px,rgba(154,147,140,0.07) 177px,rgba(154,147,140,0.12) 208px,rgba(154,147,140,0.24) 231px,rgba(154,147,140,0.12) 251px)"></div>
<div class="s" style="top:218.9px;height:1.8px;width:260px;background:linear-gradient(to right,rgba(154,147,140,0.10) 0px,rgba(154,147,140,0.17) 23px,rgba(154,147,140,0.06) 65px,rgba(154,147,140,0.15) 104px,rgba(154,147,140,0.18) 137px,rgba(154,147,140,0.06) 171px,rgba(154,147,140,0.14) 206px,rgba(154,147,140,0.21) 247px,rgba(154,147,140,0.35) 273px)"></div>
<div class="s" style="top:207.2px;height:1.7px;width:260px;background:linear-gradient(to right,rgba(228,225,221,0.05) 0px,rgba(228,225,221,0.05) 39px,rgba(228,225,221,0.34) 61px,rgba(228,225,221,0.24) 72px,rgba(228,225,221,0.40) 122px,rgba(228,225,221,0.50) 148px,rgba(228,225,221,0.45) 180px,rgba(228,225,221,0.21) 204px,rgba(228,225,221,0.42) 242px,rgba(228,225,221,0.08) 280px)"></div>
<div class="s m" style="top:222.6px;height:13.4px;width:260px;background:linear-gradient(to right,rgba(74,85,96,0.52) 0px,rgba(74,85,96,0.38) 12px,rgba(74,85,96,0.40) 36px,rgba(74,85,96,0.31) 50px,rgba(74,85,96,0.74) 73px,rgba(74,85,96,0.97) 81px,rgba(74,85,96,0.83) 111px,rgba(74,85,96,0.79) 136px,rgba(74,85,96,0.49) 143px,rgba(74,85,96,0.32) 154px,rgba(74,85,96,0.71) 176px,rgba(74,85,96,0.82) 190px,rgba(74,85,96,0.50) 202px,rgba(74,85,96,0.46) 211px,rgba(74,85,96,0.64) 237px,rgba(74,85,96,0.91) 261px)"></div>
<div class="s" style="top:238.5px;height:3.4px;width:260px;background:linear-gradient(to right,rgba(154,147,140,0.14) 0px,rgba(154,147,140,0.24) 45px,rgba(154,147,140,0.29) 70px,rgba(154,147,140,0.25) 110px,rgba(154,147,140,0.24) 131px,rgba(154,147,140,0.29) 167px,rgba(154,147,140,0.33) 197px,rgba(154,147,140,0.07) 236px,rgba(154,147,140,0.07) 269px)"></div>
<div class="s" style="top:238.3px;height:3.5px;width:260px;background:linear-gradient(to right,rgba(154,147,140,0.28) 0px,rgba(154,147,140,0.13) 43px,rgba(154,147,140,0.08) 77px,rgba(154,147,140,0.15) 102px,rgba(154,147,140,0.18) 140px,rgba(154,147,140,0.23) 157px,rgba(154,147,140,0.18) 188px,rgba(154,147,140,0.30) 215px,rgba(154,147,140,0.23) 252px)"></div>
<div class="s" style="top:248.8px;height:2.4px;width:260px;background:linear-gradient(to right,rgba(228,225,221,0.24) 0px,rgba(228,225,221,0.12) 13px,rgba(228,225,221,0.03) 25px,rgba(228,225,221,0.21) 49px,rgba(228,225,221,0.11) 78px,rgba(228,225,221,0.25) 97px,rgba(228,225,221,0.14) 118px,rgba(228,225,221,0.42) 148px,rgba(228,225,221,0.01) 161px,rgba(228,225,221,0.49) 188px,rgba(228,225,221,0.20) 224px,rgba(228,225,221,0.37) 273px)"></div>
<div class="s" style="top:251.9px;height:1.6px;width:260px;background:linear-gradient(to right,rgba(154,147,140,0.28) 0px,rgba(154,147,140,0.32) 26px,rgba(154,147,140,0.33) 38px,rgba(154,147,140,0.14) 73px,rgba(154,147,140,0.19) 117px,rgba(154,147,140,0.06) 145px,rgba(154,147,140,0.05) 186px,rgba(154,147,140,0.03) 208px,rgba(154,147,140,0.10) 219px,rgba(154,147,140,0.16) 231px,rgba(154,147,140,0.01) 255px)"></div>
<div class="s m" style="top:256.0px;height:11.4px;width:260px;background:linear-gradient(to right,rgba(74,86,96,0.50) 0px,rgba(74,86,96,0.68) 12px,rgba(74,86,96,0.34) 26px,rgba(74,86,96,0.98) 54px,rgba(74,86,96,0.76) 66px,rgba(74,86,96,0.47) 86px,rgba(74,86,96,0.49) 105px,rgba(74,86,96,0.62) 117px,rgba(74,86,96,0.46) 124px,rgba(74,86,96,0.84) 154px,rgba(74,86,96,1.00) 168px,rgba(74,86,96,0.90) 182px,rgba(74,86,96,0.93) 195px,rgba(74,86,96,0.91) 212px,rgba(74,86,96,0.58) 222px,rgba(74,86,96,0.85) 236px,rgba(74,86,96,0.39) 263px,rgba(74,86,96,0.42) 278px)"></div>
<div class="s" style="top:275.2px;height:1.6px;width:260px;background:linear-gradient(to right,rgba(154,147,140,0.15) 0px,rgba(154,147,140,0.23) 46px,rgba(154,147,140,0.12) 87px,rgba(154,147,140,0.14) 109px,rgba(154,147,140,0.01) 129px,rgba(154,147,140,0.32) 150px,rgba(154,147,140,0.18) 162px,rgba(154,147,140,0.27) 181px,rgba(154,147,140,0.18) 193px,rgba(154,147,140,0.16) 232px,rgba(154,147,140,0.31) 247px,rgba(154,147,140,0.32) 258px)"></div>
<div class="s" style="top:320.1px;height:3.2px;width:260px;background:linear-gradient(to right,rgba(154,147,140,0.22) 0px,rgba(154,147,140,0.20) 29px,rgba(154,147,140,0.30) 54px,rgba(154,147,140,0.20) 76px,rgba(154,147,140,0.02) 89px,rgba(154,147,140,0.12) 134px,rgba(154,147,140,0.34) 159px,rgba(154,147,140,0.05) 198px,rgba(154,147,140,0.17) 230px,rgba(154,147,140,0.10) 264px)"></div>
<div class="s" style="top:323.7px;height:2.7px;width:260px;background:linear-gradient(to right,rgba(154,147,140,0.24) 0px,rgba(154,147,140,0.06) 40px,rgba(154,147,140,0.17) 81px,rgba(154,147,140,0.11) 97px,rgba(154,147,140,0.30) 147px,rgba(154,147,140,0.18) 193px,rgba(154,147,140,0.14) 229px,rgba(154,147,140,0.19) 268px)"></div>
<div class="s" style="top:325.7px;height:2.5px;width:260px;background:linear-gradient(to right,rgba(154,147,140,0.29) 0px,rgba(154,147,140,0.10) 14px,rgba(154,147,140,0.07) 42px,rgba(154,147,140,0.15) 70px,rgba(154,147,140,0.23) 101px,rgba(154,147,140,0.02) 139px,rgba(154,147,140,0.04) 158px,rgba(154,147,140,0.16) 181px,rgba(154,147,140,0.00) 225px,rgba(154,147,140,0.05) 268px)"></div>
<div class="s" style="top:318.0px;height:3.5px;width:260px;background:linear-gradient(to right,rgba(154,147,140,0.02) 0px,rgba(154,147,140,0.15) 21px,rgba(154,147,140,0.34) 58px,rgba(154,147,140,0.02) 104px,rgba(154,147,140,0.23) 119px,rgba(154,147,140,0.20) 137px,rgba(154,147,140,0.19) 167px,rgba(154,147,140,0.32) 191px,rgba(154,147,140,0.13) 213px,rgba(154,147,140,0.10) 230px,rgba(154,147,140,0.22) 245px,rgba(154,147,140,0.08) 256px)"></div>
<div class="s" style="top:318.2px;height:2.2px;width:260px;background:linear-gradient(to right,rgba(228,225,221,0.45) 0px,rgba(228,225,221,0.34) 36px,rgba(228,225,221,0.18) 76px,rgba(228,225,221,0.14) 99px,rgba(228,225,221,0.28) 119px,rgba(228,225,221,0.10) 150px,rgba(228,225,221,0.01) 164px,rgba(228,225,221,0.09) 182px,rgba(228,225,221,0.45) 217px,rgba(228,225,221,0.35) 248px,rgba(228,225,221,0.04) 275px)"></div>
<div class="s" style="top:313.0px;height:1.8px;width:260px;background:linear-gradient(to right,rgba(154,147,140,0.24) 0px,rgba(154,147,140,0.06) 38px,rgba(154,147,140,0.13) 64px,rgba(154,147,140,0.29) 96px,rgba(154,147,140,0.13) 111px,rgba(154,147,140,0.06) 158px,rgba(154,147,140,0.28) 175px,rgba(154,147,140,0.17) 210px,rgba(154,147,140,0.02) 239px,rgba(154,147,140,0.09) 274px)"></div>
<div class="s" style="top:322.8px;height:2.5px;width:260px;background:linear-gradient(to right,rgba(154,147,140,0.12) 0px,rgba(154,147,140,0.22) 21px,rgba(154,147,140,0.04) 60px,rgba(154,147,140,0.14) 70px,rgba(154,147,140,0.21) 87px,rgba(154,147,140,0.18) 103px,rgba(154,147,140,0.34) 132px,rgba(154,147,140,0.09) 155px,rgba(154,147,140,0.23) 179px,rgba(154,147,140,0.08) 198px,rgba(154,147,140,0.19) 237px,rgba(154,147,140,0.30) 249px,rgba(154,147,140,0.10) 265px)"></div>
<div class="s" style="top:294.6px;height:3.0px;width:260px;background:linear-gradient(to right,rgba(154,147,140,0.23) 0px,rgba(154,147,140,0.04) 17px,rgba(154,147,140,0.27) 55px,rgba(154,147,140,0.01) 69px,rgba(154,147,140,0.20) 87px,rgba(154,147,140,0.33) 99px,rgba(154,147,140,0.26) 109px,rgba(154,147,140,0.13) 152px,rgba(154,147,140,0.06) 194px,rgba(154,147,140,0.20) 235px,rgba(154,147,140,0.28) 279px)"></div>
<div class="s" style="top:318.9px;height:2.0px;width:260px;background:linear-gradient(to right,rgba(154,147,140,0.06) 0px,rgba(154,147,140,0.18) 40px,rgba(154,147,140,0.17) 70px,rgba(154,147,140,0.32) 81px,rgba(154,147,140,0.20) 113px,rgba(154,147,140,0.31) 143px,rgba(154,147,140,0.19) 172px,rgba(154,147,140,0.05) 214px,rgba(154,147,140,0.22) 257px)"></div>
<div class="s" style="top:276.3px;height:2.5px;width:260px;background:linear-gradient(to right,rgba(154,147,140,0.00) 0px,rgba(154,147,140,0.26) 43px,rgba(154,147,140,0.27) 89px,rgba(154,147,140,0.32) 115px,rgba(154,147,140,0.09) 135px,rgba(154,147,140,0.24) 164px,rgba(154,147,140,0.02) 178px,rgba(154,147,140,0.00) 225px,rgba(154,147,140,0.16) 264px)"></div>
<div class="s" style="top:318.6px;height:2.4px;width:260px;background:linear-gradient(to right,rgba(154,147,140,0.24) 0px,rgba(154,147,140,0.01) 20px,rgba(154,147,140,0.19) 70px,rgba(154,147,140,0.19) 112px,rgba(154,147,140,0.04) 125px,rgba(154,147,140,0.34) 145px,rgba(154,147,140,0.10) 187px,rgba(154,147,140,0.34) 215px,rgba(154,147,140,0.11) 245px,rgba(154,147,140,0.06) 276px)"></div>
<div class="s m" style="top:330.0px;height:11.4px;width:260px;background:linear-gradient(to right,rgba(171,128,99,0.63) 0px,rgba(171,128,99,0.64) 18px,rgba(171,128,99,0.90) 25px,rgba(171,128,99,0.66) 44px,rgba(171,128,99,0.96) 59px,rgba(171,128,99,0.71) 74px,rgba(171,128,99,0.96) 91px,rgba(171,128,99,0.79) 112px,rgba(171,128,99,0.74) 133px,rgba(171,128,99,0.71) 162px,rgba(171,128,99,0.80) 173px,rgba(171,128,99,0.91) 198px,rgba(171,128,99,0.60) 220px,rgba(171,128,99,0.96) 245px,rgba(171,128,99,0.68) 254px,rgba(171,128,99,0.65) 265px,rgba(171,128,99,0.80) 275px)"></div>
<div class="s" style="top:348.3px;height:2.6px;width:260px;background:linear-gradient(to right,rgba(228,225,221,0.45) 0px,rgba(228,225,221,0.39) 49px,rgba(228,225,221,0.03) 79px,rgba(228,225,221,0.11) 101px,rgba(228,225,221,0.40) 149px,rgba(228,225,221,0.19) 164px,rgba(228,225,221,0.35) 191px,rgba(228,225,221,0.18) 240px,rgba(228,225,221,0.23) 278px)"></div>
<div class="s" style="top:348.9px;height:3.0px;width:260px;background:linear-gradient(to right,rgba(154,147,140,0.25) 0px,rgba(154,147,140,0.14) 40px,rgba(154,147,140,0.22) 68px,rgba(154,147,140,0.21) 107px,rgba(154,147,140,0.17) 131px,rgba(154,147,140,0.13) 161px,rgba(154,147,140,0.02) 184px,rgba(154,147,140,0.05) 197px,rgba(154,147,140,0.13) 210px,rgba(154,147,140,0.14) 259px)"></div>
<div class="s" style="top:351.7px;height:3.4px;width:260px;background:linear-gradient(to right,rgba(228,225,221,0.53) 0px,rgba(228,225,221,0.04) 42px,rgba(228,225,221,0.53) 52px,rgba(228,225,221,0.36) 76px,rgba(228,225,221,0.54) 124px,rgba(228,225,221,0.18) 155px,rgba(228,225,221,0.38) 189px,rgba(228,225,221,0.44) 202px,rgba(228,225,221,0.21) 213px,rgba(228,225,221,0.49) 256px)"></div>
<div class="s m" style="top:359.3px;height:10.1px;width:260px;background:linear-gradient(to right,rgba(66,78,90,0.91) 0px,rgba(66,78,90,0.60) 17px,rgba(66,78,90,0.66) 34px,rgba(66,78,90,0.56) 46px,rgba(66,78,90,0.31) 63px,rgba(66,78,90,0.35) 83px,rgba(66,78,90,0.34) 102px,rgba(66,78,90,0.62) 113px,rgba(66,78,90,0.99) 137px,rgba(66,78,90,0.87) 161px,rgba(66,78,90,0.66) 178px,rgba(66,78,90,0.98) 197px,rgba(66,78,90,0.31) 223px,rgba(66,78,90,0.80) 246px,rgba(66,78,90,0.95) 273px)"></div>
<div class="s" style="top:372.3px;height:2.0px;width:260px;background:linear-gradient(to right,rgba(154,147,140,0.31) 0px,rgba(154,147,140,0.29) 40px,rgba(154,147,140,0.27) 63px,rgba(154,147,140,0.17) 73px,rgba(154,147,140,0.11) 96px,rgba(154,147,140,0.00) 145px,rgba(154,147,140,0.23) 194px,rgba(154,147,140,0.14) 243px)"></div>
<div class="s" style="top:373.3px;height:2.7px;width:260px;background:linear-gradient(to right,rgba(228,225,221,0.14) 0px,rgba(228,225,221,0.10) 34px,rgba(228,225,221,0.40) 46px,rgba(228,225,221,0.51) 57px,rgba(228,225,221,0.50) 76px,rgba(228,225,221,0.39) 98px,rgba(228,225,221,0.38) 121px,rgba(228,225,221,0.13) 139px,rgba(228,225,221,0.54) 159px,rgba(228,225,221,0.21) 205px,rgba(228,225,221,0.51) 254px,rgba(228,225,221,0.34) 269px)"></div>
<div class="s m" style="top:379.4px;height:12.4px;width:260px;background:linear-gradient(to right,rgba(165,117,103,0.74) 0px,rgba(165,117,103,0.69) 13px,rgba(165,117,103,0.69) 33px,rgba(165,117,103,0.66) 47px,rgba(165,117,103,0.91) 60px,rgba(165,117,103,0.99) 73px,rgba(165,117,103,0.61) 81px,rgba(165,117,103,0.81) 93px,rgba(165,117,103,0.76) 107px,rgba(165,117,103,0.87) 131px,rgba(165,117,103,0.95) 142px,rgba(165,117,103,0.83) 157px,rgba(165,117,103,0.90) 172px,rgba(165,117,103,0.80) 192px,rgba(165,117,103,0.63) 202px,rgba(165,117,103,0.94) 214px,rgba(165,117,103,0.76) 242px,rgba(165,117,103,0.68) 250px,rgba(165,117,103,0.65) 278px)"></div>
<div class="s" style="top:392.2px;height:2.5px;width:260px;background:linear-gradient(to right,rgba(154,147,140,0.34) 0px,rgba(154,147,140,0.18) 49px,rgba(154,147,140,0.24) 93px,rgba(154,147,140,0.27) 121px,rgba(154,147,140,0.06) 133px,rgba(154,147,140,0.18) 176px,rgba(154,147,140,0.21) 213px,rgba(154,147,140,0.09) 257px,rgba(154,147,140,0.10) 274px)"></div>
<div class="s m" style="top:399.7px;height:11.3px;width:260px;background:linear-gradient(to right,rgba(76,87,97,0.65) 0px,rgba(76,87,97,0.84) 24px,rgba(76,87,97,0.82) 39px,rgba(76,87,97,0.66) 63px,rgba(76,87,97,0.63) 82px,rgba(76,87,97,0.45) 99px,rgba(76,87,97,0.90) 119px,rgba(76,87,97,0.59) 131px,rgba(76,87,97,0.51) 146px,rgba(76,87,97,0.81) 174px,rgba(76,87,97,0.66) 182px,rgba(76,87,97,0.56) 197px,rgba(76,87,97,0.72) 205px,rgba(76,87,97,0.77) 220px,rgba(76,87,97,0.66) 229px,rgba(76,87,97,0.75) 245px,rgba(76,87,97,0.85) 253px,rgba(76,87,97,0.48) 271px)"></div>
<div class="s" style="top:416.7px;height:1.5px;width:260px;background:linear-gradient(to right,rgba(154,147,140,0.11) 0px,rgba(154,147,140,0.34) 24px,rgba(154,147,140,0.06) 39px,rgba(154,147,140,0.13) 50px,rgba(154,147,140,0.02) 63px,rgba(154,147,140,0.33) 100px,rgba(154,147,140,0.21) 117px,rgba(154,147,140,0.06) 165px,rgba(154,147,140,0.18) 182px,rgba(154,147,140,0.20) 194px,rgba(154,147,140,0.31) 237px,rgba(154,147,140,0.19) 252px)"></div>
<div class="s" style="top:414.2px;height:1.9px;width:260px;background:linear-gradient(to right,rgba(228,225,221,0.08) 0px,rgba(228,225,221,0.05) 37px,rgba(228,225,221,0.47) 47px,rgba(228,225,221,0.22) 71px,rgba(228,225,221,0.26) 101px,rgba(228,225,221,0.45) 112px,rgba(228,225,221,0.17) 161px,rgba(228,225,221,0.15) 183px,rgba(228,225,221,0.29) 219px,rgba(228,225,221,0.34) 251px,rgba(228,225,221,0.29) 272px)"></div>
<div class="s m" style="top:421.0px;height:11.0px;width:260px;background:linear-gradient(to right,rgba(74,85,96,0.74) 0px,rgba(74,85,96,0.99) 21px,rgba(74,85,96,0.66) 31px,rgba(74,85,96,0.41) 51px,rgba(74,85,96,0.47) 66px,rgba(74,85,96,0.79) 85px,rgba(74,85,96,0.62) 97px,rgba(74,85,96,0.59) 108px,rgba(74,85,96,0.92) 138px,rgba(74,85,96,0.54) 152px,rgba(74,85,96,0.92) 163px,rgba(74,85,96,0.33) 191px,rgba(74,85,96,0.58) 208px,rgba(74,85,96,0.77) 220px,rgba(74,85,96,0.56) 245px,rgba(74,85,96,0.73) 275px)"></div>
<div class="s" style="top:444.6px;height:1.8px;width:260px;background:linear-gradient(to right,rgba(154,147,140,0.20) 0px,rgba(154,147,140,0.04) 17px,rgba(154,147,140,0.30) 43px,rgba(154,147,140,0.17) 61px,rgba(154,147,140,0.07) 95px,rgba(154,147,140,0.30) 120px,rgba(154,147,140,0.20) 162px,rgba(154,147,140,0.00) 197px,rgba(154,147,140,0.12) 216px,rgba(154,147,140,0.16) 228px,rgba(154,147,140,0.23) 263px)"></div>
<div class="s" style="top:441.4px;height:3.2px;width:260px;background:linear-gradient(to right,rgba(154,147,140,0.10) 0px,rgba(154,147,140,0.10) 20px,rgba(154,147,140,0.16) 64px,rgba(154,147,140,0.17) 111px,rgba(154,147,140,0.22) 136px,rgba(154,147,140,0.17) 148px,rgba(154,147,140,0.17) 172px,rgba(154,147,140,0.23) 198px,rgba(154,147,140,0.00) 234px,rgba(154,147,140,0.15) 265px)"></div>
<div class="s" style="top:435.4px;height:3.1px;width:260px;background:linear-gradient(to right,rgba(154,147,140,0.09) 0px,rgba(154,147,140,0.32) 23px,rgba(154,147,140,0.05) 52px,rgba(154,147,140,0.11) 71px,rgba(154,147,140,0.00) 114px,rgba(154,147,140,0.25) 133px,rgba(154,147,140,0.20) 147px,rgba(154,147,140,0.16) 190px,rgba(154,147,140,0.20) 228px,rgba(154,147,140,0.34) 273px)"></div>
<div class="s" style="top:445.3px;height:2.9px;width:260px;background:linear-gradient(to right,rgba(228,225,221,0.22) 0px,rgba(228,225,221,0.23) 36px,rgba(228,225,221,0.45) 80px,rgba(228,225,221,0.30) 104px,rgba(228,225,221,0.40) 153px,rgba(228,225,221,0.26) 172px,rgba(228,225,221,0.15) 185px,rgba(228,225,221,0.10) 227px,rgba(228,225,221,0.42) 262px)"></div>
<div class="s m" style="top:453.4px;height:10.1px;width:260px;background:linear-gradient(to right,rgba(69,81,92,0.60) 0px,rgba(69,81,92,0.59) 7px,rgba(69,81,92,0.83) 29px,rgba(69,81,92,0.35) 56px,rgba(69,81,92,0.81) 72px,rgba(69,81,92,0.87) 85px,rgba(69,81,92,0.53) 114px,rgba(69,81,92,0.33) 135px,rgba(69,81,92,0.97) 157px,rgba(69,81,92,0.53) 181px,rgba(69,81,92,0.30) 210px,rgba(69,81,92,0.34) 229px,rgba(69,81,92,0.49) 245px,rgba(69,81,92,0.91) 254px,rgba(69,81,92,0.67) 280px)"></div>
<div class="s" style="top:467.1px;height:2.0px;width:260px;background:linear-gradient(to right,rgba(154,147,140,0.24) 0px,rgba(154,147,140,0.09) 48px,rgba(154,147,140,0.07) 68px,rgba(154,147,140,0.28) 116px,rgba(154,147,140,0.15) 140px,rgba(154,147,140,0.20) 183px,rgba(154,147,140,0.14) 217px,rgba(154,147,140,0.00) 250px,rgba(154,147,140,0.29) 267px)"></div>
<div class="s" style="top:467.5px;height:2.8px;width:260px;background:linear-gradient(to right,rgba(154,147,140,0.13) 0px,rgba(154,147,140,0.27) 33px,rgba(154,147,140,0.09) 80px,rgba(154,147,140,0.15) 108px,rgba(154,147,140,0.31) 148px,rgba(154,147,140,0.23) 197px,rgba(154,147,140,0.04) 231px,rgba(154,147,140,0.01) 243px,rgba(154,147,140,0.20) 278px)"></div>
<div class="s m" style="top:473.6px;height:11.2px;width:260px;background:linear-gradient(to right,rgba(76,87,98,0.92) 0px,rgba(76,87,98,0.78) 23px,rgba(76,87,98,0.51) 35px,rgba(76,87,98,0.53) 54px,rgba(76,87,98,0.76) 73px,rgba(76,87,98,0.53) 93px,rgba(76,87,98,0.48) 123px,rgba(76,87,98,0.57) 143px,rgba(76,87,98,0.55) 149px,rgba(76,87,98,0.91) 171px,rgba(76,87,98,0.41) 187px,rgba(76,87,98,0.33) 208px,rgba(76,87,98,0.38) 226px,rgba(76,87,98,0.83) 249px,rgba(76,87,98,0.54) 274px)"></div>
<div class="s" style="top:487.9px;height:2.0px;width:260px;background:linear-gradient(to right,rgba(228,225,221,0.12) 0px,rgba(228,225,221,0.45) 48px,rgba(228,225,221,0.38) 58px,rgba(228,225,221,0.03) 87px,rgba(228,225,221,0.33) 115px,rgba(228,225,221,0.09) 126px,rgba(228,225,221,0.14) 167px,rgba(228,225,221,0.22) 212px,rgba(228,225,221,0.20) 248px,rgba(228,225,221,0.37) 259px)"></div>
<div class="s m" style="top:493.8px;height:10.0px;width:260px;background:linear-gradient(to right,rgba(73,85,96,0.69) 0px,rgba(73,85,96,0.69) 23px,rgba(73,85,96,0.41) 33px,rgba(73,85,96,0.93) 59px,rgba(73,85,96,0.73) 73px,rgba(73,85,96,0.41) 102px,rgba(73,85,96,0.85) 121px,rgba(73,85,96,0.70) 142px,rgba(73,85,96,0.56) 167px,rgba(73,85,96,0.52) 179px,rgba(73,85,96,0.61) 192px,rgba(73,85,96,0.89) 201px,rgba(73,85,96,0.79) 223px,rgba(73,85,96,0.84) 244px,rgba(73,85,96,0.48) 261px,rgba(73,85,96,0.38) 272px)"></div>
<div class="s" style="top:509.4px;height:2.8px;width:260px;background:linear-gradient(to right,rgba(228,225,221,0.24) 0px,rgba(228,225,221,0.02) 31px,rgba(228,225,221,0.23) 68px,rgba(228,225,221,0.52) 82px,rgba(228,225,221,0.01) 112px,rgba(228,225,221,0.18) 132px,rgba(228,225,221,0.00) 162px,rgba(228,225,221,0.36) 188px,rgba(228,225,221,0.19) 225px,rgba(228,225,221,0.08) 264px,rgba(228,225,221,0.01) 275px)"></div>
<div class="s" style="top:510.5px;height:2.1px;width:260px;background:linear-gradient(to right,rgba(228,225,221,0.40) 0px,rgba(228,225,221,0.53) 42px,rgba(228,225,221,0.37) 78px,rgba(228,225,221,0.37) 121px,rgba(228,225,221,0.38) 148px,rgba(228,225,221,0.43) 161px,rgba(228,225,221,0.52) 173px,rgba(228,225,221,0.52) 210px,rgba(228,225,221,0.22) 246px,rgba(228,225,221,0.25) 276px)"></div>
<div class="s m" style="top:515.0px;height:10.0px;width:260px;background:linear-gradient(to right,rgba(165,117,103,0.93) 0px,rgba(165,117,103,0.69) 10px,rgba(165,117,103,0.88) 24px,rgba(165,117,103,0.72) 40px,rgba(165,117,103,0.73) 60px,rgba(165,117,103,0.92) 70px,rgba(165,117,103,0.88) 87px,rgba(165,117,103,0.99) 94px,rgba(165,117,103,0.82) 104px,rgba(165,117,103,0.73) 114px,rgba(165,117,103,0.81) 139px,rgba(165,117,103,0.65) 169px,rgba(165,117,103,0.96) 196px,rgba(165,117,103,0.97) 209px,rgba(165,117,103,0.88) 222px,rgba(165,117,103,0.81) 236px,rgba(165,117,103,0.94) 257px,rgba(165,117,103,0.63) 271px)"></div>
<div class="s" style="top:531.2px;height:2.2px;width:260px;background:linear-gradient(to right,rgba(154,147,140,0.23) 0px,rgba(154,147,140,0.31) 26px,rgba(154,147,140,0.17) 52px,rgba(154,147,140,0.02) 97px,rgba(154,147,140,0.23) 123px,rgba(154,147,140,0.15) 159px,rgba(154,147,140,0.32) 187px,rgba(154,147,140,0.09) 233px,rgba(154,147,140,0.00) 260px,rgba(154,147,140,0.12) 274px)"></div>
<div class="s" style="top:530.9px;height:1.8px;width:260px;background:linear-gradient(to right,rgba(154,147,140,0.29) 0px,rgba(154,147,140,0.08) 15px,rgba(154,147,140,0.20) 39px,rgba(154,147,140,0.07) 87px,rgba(154,147,140,0.21) 115px,rgba(154,147,140,0.32) 158px,rgba(154,147,140,0.06) 204px,rgba(154,147,140,0.02) 227px,rgba(154,147,140,0.14) 238px,rgba(154,147,140,0.21) 266px)"></div>
<div class="s m" style="top:536.4px;height:10.1px;width:260px;background:linear-gradient(to right,rgba(70,82,93,0.38) 0px,rgba(70,82,93,0.80) 29px,rgba(70,82,93,0.78) 38px,rgba(70,82,93,0.35) 47px,rgba(70,82,93,0.40) 69px,rgba(70,82,93,0.60) 91px,rgba(70,82,93,0.52) 113px,rgba(70,82,93,0.37) 134px,rgba(70,82,93,0.86) 160px,rgba(70,82,93,0.75) 175px,rgba(70,82,93,0.74) 183px,rgba(70,82,93,0.97) 195px,rgba(70,82,93,0.32) 204px,rgba(70,82,93,0.78) 231px,rgba(70,82,93,0.36) 252px,rgba(70,82,93,0.81) 269px,rgba(70,82,93,0.86) 277px)"></div>
<div class="s m" style="top:546.5px;height:13.5px;width:260px;background:linear-gradient(to right,rgba(168,122,92,0.65) 0px,rgba(168,122,92,0.77) 19px,rgba(168,122,92,0.83) 44px,rgba(168,122,92,0.90) 70px,rgba(168,122,92,0.68) 88px,rgba(168,122,92,0.73) 117px,rgba(168,122,92,0.93) 139px,rgba(168,122,92,0.62) 149px,rgba(168,122,92,0.89) 174px,rgba(168,122,92,0.72) 184px,rgba(168,122,92,0.83) 205px,rgba(168,122,92,0.79) 231px,rgba(168,122,92,0.91) 242px,rgba(168,122,92,0.71) 258px,rgba(168,122,92,0.70) 267px,rgba(168,122,92,0.66) 276px)"></div>
<div class="s m" style="top:560.0px;height:9.0px;width:260px;background:linear-gradient(to right,rgba(74,86,96,0.38) 0px,rgba(74,86,96,0.79) 10px,rgba(74,86,96,0.83) 21px,rgba(74,86,96,0.52) 27px,rgba(74,86,96,0.68) 37px,rgba(74,86,96,0.82) 54px,rgba(74,86,96,0.90) 71px,rgba(74,86,96,0.72) 78px,rgba(74,86,96,0.54) 86px,rgba(74,86,96,0.47) 113px,rgba(74,86,96,0.99) 121px,rgba(74,86,96,0.72) 127px,rgba(74,86,96,0.73) 137px,rgba(74,86,96,0.38) 162px,rgba(74,86,96,0.77) 191px,rgba(74,86,96,0.43) 199px,rgba(74,86,96,0.85) 215px,rgba(74,86,96,0.43) 242px,rgba(74,86,96,0.73) 268px,rgba(74,86,96,0.67) 275px)"></div>
<div class="s" style="top:572.4px;height:3.1px;width:260px;background:linear-gradient(to right,rgba(154,147,140,0.03) 0px,rgba(154,147,140,0.19) 12px,rgba(154,147,140,0.09) 52px,rgba(154,147,140,0.30) 91px,rgba(154,147,140,0.03) 120px,rgba(154,147,140,0.04) 131px,rgba(154,147,140,0.29) 171px,rgba(154,147,140,0.22) 181px,rgba(154,147,140,0.10) 228px,rgba(154,147,140,0.27) 276px)"></div>
<div class="s m" style="top:578.0px;height:10.0px;width:260px;background:linear-gradient(to right,rgba(73,85,96,0.43) 0px,rgba(73,85,96,0.50) 26px,rgba(73,85,96,0.31) 33px,rgba(73,85,96,0.78) 55px,rgba(73,85,96,0.94) 65px,rgba(73,85,96,0.47) 80px,rgba(73,85,96,0.76) 92px,rgba(73,85,96,0.90) 116px,rgba(73,85,96,0.74) 124px,rgba(73,85,96,0.36) 137px,rgba(73,85,96,0.42) 159px,rgba(73,85,96,0.98) 167px,rgba(73,85,96,0.64) 174px,rgba(73,85,96,0.42) 190px,rgba(73,85,96,0.35) 219px,rgba(73,85,96,0.52) 227px,rgba(73,85,96,0.69) 247px,rgba(73,85,96,0.70) 270px)"></div>
<div class="s" style="top:595.9px;height:1.7px;width:260px;background:linear-gradient(to right,rgba(154,147,140,0.11) 0px,rgba(154,147,140,0.17) 49px,rgba(154,147,140,0.28) 79px,rgba(154,147,140,0.23) 129px,rgba(154,147,140,0.05) 140px,rgba(154,147,140,0.02) 155px,rgba(154,147,140,0.33) 167px,rgba(154,147,140,0.26) 193px,rgba(154,147,140,0.07) 214px,rgba(154,147,140,0.03) 263px)"></div>
<div class="s" style="top:588.5px;height:2.5px;width:260px;background:linear-gradient(to right,rgba(154,147,140,0.20) 0px,rgba(154,147,140,0.04) 34px,rgba(154,147,140,0.07) 79px,rgba(154,147,140,0.02) 99px,rgba(154,147,140,0.20) 118px,rgba(154,147,140,0.33) 147px,rgba(154,147,140,0.12) 190px,rgba(154,147,140,0.18) 212px,rgba(154,147,140,0.13) 233px,rgba(154,147,140,0.08) 269px)"></div>
<div class="s" style="top:610.5px;height:2.8px;width:260px;background:linear-gradient(to right,rgba(228,225,221,0.55) 0px,rgba(228,225,221,0.23) 29px,rgba(228,225,221,0.43) 65px,rgba(228,225,221,0.12) 93px,rgba(228,225,221,0.39) 143px,rgba(228,225,221,0.05) 180px,rgba(228,225,221,0.34) 206px,rgba(228,225,221,0.17) 251px,rgba(228,225,221,0.40) 264px)"></div>
<div class="s" style="top:606.1px;height:2.9px;width:260px;background:linear-gradient(to right,rgba(154,147,140,0.11) 0px,rgba(154,147,140,0.04) 15px,rgba(154,147,140,0.29) 56px,rgba(154,147,140,0.19) 89px,rgba(154,147,140,0.28) 120px,rgba(154,147,140,0.08) 133px,rgba(154,147,140,0.34) 149px,rgba(154,147,140,0.25) 179px,rgba(154,147,140,0.28) 201px,rgba(154,147,140,0.14) 242px)"></div>
<div class="s" style="top:611.8px;height:3.0px;width:260px;background:linear-gradient(to right,rgba(154,147,140,0.33) 0px,rgba(154,147,140,0.20) 49px,rgba(154,147,140,0.22) 73px,rgba(154,147,140,0.04) 96px,rgba(154,147,140,0.13) 118px,rgba(154,147,140,0.19) 147px,rgba(154,147,140,0.23) 194px,rgba(154,147,140,0.17) 222px,rgba(154,147,140,0.22) 264px)"></div>
<div class="s m" style="top:615.0px;height:6.5px;width:260px;background:linear-gradient(to right,rgba(164,116,102,0.75) 0px,rgba(164,116,102,0.86) 24px,rgba(164,116,102,0.66) 38px,rgba(164,116,102,0.61) 48px,rgba(164,116,102,0.94) 71px,rgba(164,116,102,0.61) 91px,rgba(164,116,102,0.69) 106px,rgba(164,116,102,0.84) 114px,rgba(164,116,102,0.94) 140px,rgba(164,116,102,0.70) 166px,rgba(164,116,102,0.72) 189px,rgba(164,116,102,0.91) 204px,rgba(164,116,102,0.85) 210px,rgba(164,116,102,0.79) 224px,rgba(164,116,102,0.68) 235px,rgba(164,116,102,0.79) 265px,rgba(164,116,102,0.86) 276px)"></div>
<div class="s" style="top:626.7px;height:2.7px;width:260px;background:linear-gradient(to right,rgba(228,225,221,0.49) 0px,rgba(228,225,221,0.31) 29px,rgba(228,225,221,0.09) 45px,rgba(228,225,221,0.13) 93px,rgba(228,225,221,0.12) 125px,rgba(228,225,221,0.15) 139px,rgba(228,225,221,0.13) 166px,rgba(228,225,221,0.16) 213px,rgba(228,225,221,0.36) 260px)"></div>
<div class="s" style="top:626.4px;height:1.5px;width:260px;background:linear-gradient(to right,rgba(154,147,140,0.03) 0px,rgba(154,147,140,0.02) 15px,rgba(154,147,140,0.17) 35px,rgba(154,147,140,0.07) 71px,rgba(154,147,140,0.26) 98px,rgba(154,147,140,0.24) 112px,rgba(154,147,140,0.00) 126px,rgba(154,147,140,0.19) 167px,rgba(154,147,140,0.10) 201px,rgba(154,147,140,0.20) 217px,rgba(154,147,140,0.35) 239px)"></div>
<div class="s" style="top:641.3px;height:1.9px;width:260px;background:linear-gradient(to right,rgba(154,147,140,0.13) 0px,rgba(154,147,140,0.17) 15px,rgba(154,147,140,0.10) 49px,rgba(154,147,140,0.01) 66px,rgba(154,147,140,0.17) 85px,rgba(154,147,140,0.25) 135px,rgba(154,147,140,0.09) 155px,rgba(154,147,140,0.31) 173px,rgba(154,147,140,0.32) 183px,rgba(154,147,140,0.10) 224px,rgba(154,147,140,0.04) 256px)"></div>
<div class="s" style="top:635.7px;height:3.4px;width:260px;background:linear-gradient(to right,rgba(154,147,140,0.22) 0px,rgba(154,147,140,0.32) 49px,rgba(154,147,140,0.22) 91px,rgba(154,147,140,0.19) 116px,rgba(154,147,140,0.11) 157px,rgba(154,147,140,0.22) 204px,rgba(154,147,140,0.05) 251px)"></div>
<div class="s" style="top:648.1px;height:2.1px;width:260px;background:linear-gradient(to right,rgba(154,147,140,0.17) 0px,rgba(154,147,140,0.09) 25px,rgba(154,147,140,0.14) 55px,rgba(154,147,140,0.02) 75px,rgba(154,147,140,0.24) 103px,rgba(154,147,140,0.31) 119px,rgba(154,147,140,0.04) 134px,rgba(154,147,140,0.28) 146px,rgba(154,147,140,0.02) 164px,rgba(154,147,140,0.08) 201px,rgba(154,147,140,0.20) 225px,rgba(154,147,140,0.31) 247px,rgba(154,147,140,0.22) 274px)"></div>
<div class="s m" style="top:654.0px;height:10.0px;width:260px;background:linear-gradient(to right,rgba(165,118,105,0.82) 0px,rgba(165,118,105,0.72) 24px,rgba(165,118,105,0.78) 34px,rgba(165,118,105,0.79) 60px,rgba(165,118,105,0.96) 77px,rgba(165,118,105,0.98) 104px,rgba(165,118,105,0.87) 127px,rgba(165,118,105,0.69) 143px,rgba(165,118,105,0.86) 169px,rgba(165,118,105,0.70) 199px,rgba(165,118,105,0.68) 227px,rgba(165,118,105,0.77) 251px,rgba(165,118,105,0.85) 277px)"></div>
<div class="s m" style="top:664.0px;height:10.0px;width:260px;background:linear-gradient(to right,rgba(73,85,96,0.86) 0px,rgba(73,85,96,0.81) 11px,rgba(73,85,96,0.82) 32px,rgba(73,85,96,0.40) 59px,rgba(73,85,96,0.83) 85px,rgba(73,85,96,0.98) 111px,rgba(73,85,96,0.85) 131px,rgba(73,85,96,0.96) 149px,rgba(73,85,96,0.67) 167px,rgba(73,85,96,0.59) 173px,rgba(73,85,96,0.31) 182px,rgba(73,85,96,0.35) 201px,rgba(73,85,96,0.98) 209px,rgba(73,85,96,0.54) 220px,rgba(73,85,96,0.32) 244px,rgba(73,85,96,0.63) 270px,rgba(73,85,96,0.37) 278px)"></div>
<div class="s" style="top:678.9px;height:2.5px;width:260px;background:linear-gradient(to right,rgba(154,147,140,0.02) 0px,rgba(154,147,140,0.09) 39px,rgba(154,147,140,0.15) 67px,rgba(154,147,140,0.33) 100px,rgba(154,147,140,0.31) 142px,rgba(154,147,140,0.22) 163px,rgba(154,147,140,0.27) 200px,rgba(154,147,140,0.32) 226px,rgba(154,147,140,0.31) 256px)"></div>
<div class="s" style="top:679.3px;height:1.9px;width:260px;background:linear-gradient(to right,rgba(154,147,140,0.19) 0px,rgba(154,147,140,0.18) 35px,rgba(154,147,140,0.30) 79px,rgba(154,147,140,0.03) 106px,rgba(154,147,140,0.06) 131px,rgba(154,147,140,0.09) 174px,rgba(154,147,140,0.25) 211px,rgba(154,147,140,0.31) 239px,rgba(154,147,140,0.16) 264px)"></div>
<div class="s m" style="top:684.4px;height:11.2px;width:260px;background:linear-gradient(to right,rgba(66,78,90,0.44) 0px,rgba(66,78,90,0.32) 23px,rgba(66,78,90,0.64) 34px,rgba(66,78,90,0.91) 63px,rgba(66,78,90,0.40) 88px,rgba(66,78,90,0.50) 107px,rgba(66,78,90,0.82) 116px,rgba(66,78,90,0.61) 141px,rgba(66,78,90,0.54) 161px,rgba(66,78,90,0.36) 175px,rgba(66,78,90,0.81) 199px,rgba(66,78,90,0.51) 212px,rgba(66,78,90,0.45) 242px,rgba(66,78,90,0.35) 260px)"></div>
<div class="s" style="top:699.2px;height:2.6px;width:260px;background:linear-gradient(to right,rgba(154,147,140,0.05) 0px,rgba(154,147,140,0.23) 17px,rgba(154,147,140,0.13) 45px,rgba(154,147,140,0.07) 77px,rgba(154,147,140,0.21) 120px,rgba(154,147,140,0.13) 135px,rgba(154,147,140,0.17) 150px,rgba(154,147,140,0.07) 178px,rgba(154,147,140,0.25) 227px,rgba(154,147,140,0.22) 252px)"></div>
<div class="s m" style="top:703.4px;height:11.2px;width:260px;background:linear-gradient(to right,rgba(73,85,96,0.36) 0px,rgba(73,85,96,0.72) 18px,rgba(73,85,96,0.57) 32px,rgba(73,85,96,0.75) 53px,rgba(73,85,96,0.44) 81px,rgba(73,85,96,0.91) 95px,rgba(73,85,96,0.36) 104px,rgba(73,85,96,0.49) 111px,rgba(73,85,96,0.56) 121px,rgba(73,85,96,0.47) 139px,rgba(73,85,96,0.79) 159px,rgba(73,85,96,0.40) 172px,rgba(73,85,96,0.60) 202px,rgba(73,85,96,0.38) 210px,rgba(73,85,96,0.60) 233px,rgba(73,85,96,0.82) 262px,rgba(73,85,96,0.83) 270px)"></div>
<div class="s" style="top:725.0px;height:3.2px;width:260px;background:linear-gradient(to right,rgba(228,225,221,0.51) 0px,rgba(228,225,221,0.23) 42px,rgba(228,225,221,0.01) 63px,rgba(228,225,221,0.22) 77px,rgba(228,225,221,0.07) 90px,rgba(228,225,221,0.14) 118px,rgba(228,225,221,0.10) 167px,rgba(228,225,221,0.29) 199px,rgba(228,225,221,0.43) 225px,rgba(228,225,221,0.46) 273px)"></div>
<div class="s" style="top:718.3px;height:2.3px;width:260px;background:linear-gradient(to right,rgba(228,225,221,0.38) 0px,rgba(228,225,221,0.39) 25px,rgba(228,225,221,0.05) 74px,rgba(228,225,221,0.06) 123px,rgba(228,225,221,0.03) 133px,rgba(228,225,221,0.17) 178px,rgba(228,225,221,0.34) 222px,rgba(228,225,221,0.53) 234px,rgba(228,225,221,0.52) 251px)"></div>
<div class="s m" style="top:728.0px;height:11.0px;width:260px;background:linear-gradient(to right,rgba(79,87,94,0.68) 0px,rgba(79,87,94,0.36) 8px,rgba(79,87,94,0.44) 19px,rgba(79,87,94,0.45) 43px,rgba(79,87,94,0.36) 60px,rgba(79,87,94,0.54) 86px,rgba(79,87,94,0.81) 93px,rgba(79,87,94,0.65) 115px,rgba(79,87,94,0.53) 139px,rgba(79,87,94,0.87) 165px,rgba(79,87,94,0.83) 182px,rgba(79,87,94,0.68) 195px,rgba(79,87,94,0.34) 216px,rgba(79,87,94,0.87) 237px,rgba(79,87,94,1.00) 266px)"></div>
<div class="s" style="top:742.6px;height:1.7px;width:260px;background:linear-gradient(to right,rgba(228,225,221,0.03) 0px,rgba(228,225,221,0.25) 36px,rgba(228,225,221,0.51) 78px,rgba(228,225,221,0.54) 125px,rgba(228,225,221,0.01) 172px,rgba(228,225,221,0.26) 186px,rgba(228,225,221,0.47) 223px,rgba(228,225,221,0.41) 265px)"></div>
<div class="s m" style="top:748.0px;height:11.0px;width:260px;background:linear-gradient(to right,rgba(79,90,100,0.44) 0px,rgba(79,90,100,0.83) 11px,rgba(79,90,100,0.35) 25px,rgba(79,90,100,0.71) 47px,rgba(79,90,100,0.63) 70px,rgba(79,90,100,0.98) 81px,rgba(79,90,100,0.70) 99px,rgba(79,90,100,0.31) 121px,rgba(79,90,100,0.54) 131px,rgba(79,90,100,0.33) 160px,rgba(79,90,100,0.72) 189px,rgba(79,90,100,0.82) 205px,rgba(79,90,100,0.85) 232px,rgba(79,90,100,0.90) 238px,rgba(79,90,100,0.89) 253px,rgba(79,90,100,0.90) 271px,rgba(79,90,100,0.65) 279px)"></div>
</div>
<div style="position:absolute;left:0;top:0;width:100%;height:3px;background:linear-gradient(to bottom,rgba(232,231,229,0.85),rgba(232,231,229,0))"></div>
<div style="position:absolute;left:0;top:0;width:2px;height:100%;background:rgba(225,224,222,0.5)"></div>
<svg id="noise" width="533" height="761">
<filter id="nd" x="0" y="0" width="100%" height="100%" color-interpolation-filters="sRGB">
<feTurbulence type="fractalNoise" baseFrequency="0.2 0.9" numOctaves="4" seed="7"/>
<feColorMatrix type="matrix" values="0 0 0 0 0.55  0 0 0 0 0.53  0 0 0 0 0.52  1.3 0 0 0 -0.6"/>
</filter>
<filter id="nl" x="0" y="0" width="100%" height="100%" color-interpolation-filters="sRGB">
<feTurbulence type="fractalNoise" baseFrequency="0.2 0.9" numOctaves="4" seed="19"/>
<feColorMatrix type="matrix" values="0 0 0 0 0.9  0 0 0 0 0.89  0 0 0 0 0.88  1.2 0 0 0 -0.55"/>
</filter>
<rect width="533" height="761" filter="url(#nd)"/>
<rect width="533" height="761" filter="url(#nl)"/>
</svg>
<div style="position:absolute;left:273px;top:759px;width:260px;height:3px;background:#fff"></div>
</div>
</body></html>
